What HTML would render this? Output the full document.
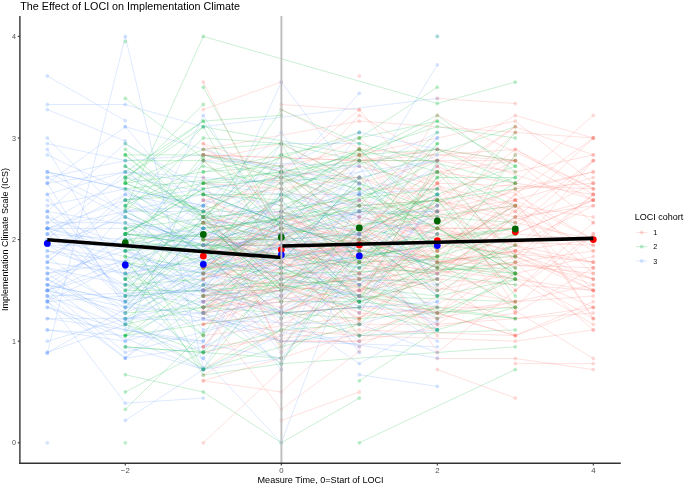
<!DOCTYPE html>
<html><head><meta charset="utf-8"><style>
html,body{margin:0;padding:0;background:#fff;}
svg{display:block;will-change:transform;}
text{font-family:"Liberation Sans",sans-serif;}
.tk{font-size:7.2px;fill:#4D4D4D;}
.tx{font-size:7.8px;fill:#4D4D4D;}
.at{font-size:9px;fill:#000;}
.ti{font-size:10.75px;fill:#000;}
.lt{font-size:7.2px;fill:#000;}
.l1{fill:none;stroke:#F8766D;stroke-opacity:0.21;stroke-width:1.0px;}
.p1{fill:#F8766D;fill-opacity:0.26;}
.l2{fill:none;stroke:#00BA38;stroke-opacity:0.21;stroke-width:1.0px;}
.p2{fill:#00BA38;fill-opacity:0.26;}
.l3{fill:none;stroke:#619CFF;stroke-opacity:0.21;stroke-width:1.0px;}
.p3{fill:#619CFF;fill-opacity:0.26;}
</style></head><body>
<svg width="685" height="484" viewBox="0 0 685 484">
<rect width="685" height="484" fill="#fff"/>
<polyline class="l3" points="47.3,250.9 125.3,273.5 359.3,234.0 437.3,194.4"/>
<polyline class="l2" points="203.3,313.0 281.3,363.8 359.3,239.6 437.3,290.4"/>
<polyline class="l1" points="281.3,228.3 359.3,296.0 437.3,166.2 515.3,200.1 593.3,177.5"/>
<polyline class="l3" points="47.3,194.4 125.3,301.7 203.3,217.0 359.3,262.2"/>
<polyline class="l1" points="203.3,346.8 281.3,250.9 359.3,250.9 437.3,335.6"/>
<polyline class="l2" points="203.3,250.9 281.3,234.0 515.3,205.7"/>
<polyline class="l3" points="47.3,300.6 125.3,403.2 203.3,398.1"/>
<polyline class="l1" points="281.3,420.4 359.3,392.0"/>
<polyline class="l2" points="125.3,279.1 203.3,211.4 281.3,234.0"/>
<polyline class="l3" points="125.3,358.1 203.3,284.8 281.3,318.6 359.3,239.6"/>
<polyline class="l3" points="47.3,296.0 125.3,358.1 281.3,245.2 359.3,267.8"/>
<polyline class="l2" points="125.3,209.1 203.3,36.4 437.3,103.5 515.3,82.1"/>
<polyline class="l2" points="125.3,307.3 203.3,228.3 359.3,211.4 437.3,200.1"/>
<polyline class="l2" points="125.3,335.6 203.3,296.0 281.3,273.5 359.3,284.8 437.3,313.0 515.3,279.1"/>
<polyline class="l2" points="359.3,138.0 437.3,87.2"/>
<polyline class="l3" points="47.3,279.1 125.3,318.6 203.3,301.7 281.3,290.4 359.3,250.9 437.3,329.9"/>
<polyline class="l3" points="47.3,222.7 125.3,177.5 437.3,234.0"/>
<polyline class="l3" points="47.3,171.9 203.3,205.7 281.3,132.4 359.3,239.6 437.3,217.0"/>
<polyline class="l2" points="125.3,154.9 203.3,154.9 281.3,177.5 437.3,126.7 515.3,138.0"/>
<polyline class="l2" points="125.3,324.3 203.3,307.3 281.3,234.0 359.3,335.6 515.3,329.9"/>
<polyline class="l1" points="281.3,104.5 359.3,109.6"/>
<polyline class="l2" points="125.3,245.2 359.3,245.2 437.3,143.6"/>
<polyline class="l1" points="203.3,307.3 359.3,290.4 437.3,324.3 515.3,273.5 593.3,318.6"/>
<polyline class="l2" points="125.3,228.3 203.3,205.7 359.3,245.2 437.3,205.7"/>
<polyline class="l2" points="125.3,279.1 203.3,256.5 281.3,171.9 359.3,262.2 437.3,171.9"/>
<polyline class="l3" points="47.3,273.5 125.3,250.9 203.3,301.7 281.3,363.8 359.3,228.3 437.3,222.7"/>
<polyline class="l1" points="203.3,239.6 281.3,234.0 437.3,205.7 515.3,132.4"/>
<polyline class="l2" points="203.3,250.9 281.3,217.0 359.3,279.1"/>
<polyline class="l3" points="125.3,126.7 203.3,217.0 281.3,211.4"/>
<polyline class="l2" points="125.3,346.8 203.3,352.5 281.3,279.1 437.3,239.6"/>
<polyline class="l2" points="125.3,279.1 203.3,335.6"/>
<polyline class="l2" points="125.3,183.2 203.3,211.4 281.3,171.9 359.3,188.8"/>
<polyline class="l3" points="203.3,358.5 281.3,442.8 359.3,235.5"/>
<polyline class="l1" points="203.3,239.6 281.3,177.5 359.3,205.7 437.3,200.1 515.3,234.0 593.3,200.1"/>
<polyline class="l2" points="125.3,335.6 203.3,160.6 281.3,228.3 359.3,239.6 437.3,200.1 515.3,279.1"/>
<polyline class="l2" points="203.3,154.9 281.3,171.9 359.3,160.6 437.3,194.4 515.3,166.2"/>
<polyline class="l3" points="359.3,374.7 437.3,386.4"/>
<polyline class="l3" points="47.3,234.0 125.3,296.0 203.3,177.5 359.3,284.8 437.3,234.0"/>
<polyline class="l3" points="47.3,250.9 125.3,262.2 281.3,211.4 437.3,132.4"/>
<polyline class="l1" points="203.3,313.0 281.3,284.8 359.3,313.0 437.3,318.6 515.3,301.7"/>
<polyline class="l2" points="125.3,234.0 203.3,188.8 281.3,177.5 437.3,228.3 515.3,132.4"/>
<polyline class="l3" points="47.3,234.0 125.3,239.6 203.3,228.3 281.3,267.8 437.3,245.2"/>
<polyline class="l2" points="125.3,392.0 203.3,351.4"/>
<polyline class="l3" points="47.3,245.2 125.3,217.0 203.3,245.2 281.3,171.9"/>
<polyline class="l3" points="47.3,200.1 125.3,267.8 203.3,262.2 281.3,222.7"/>
<polyline class="l3" points="47.3,211.4 125.3,143.6 281.3,234.0 359.3,267.8 437.3,211.4"/>
<polyline class="l1" points="203.3,296.0 281.3,279.1 359.3,228.3 437.3,352.5 515.3,290.4 593.3,234.0"/>
<polyline class="l2" points="125.3,177.5 203.3,126.7 359.3,154.9 437.3,115.4 515.3,171.9"/>
<polyline class="l1" points="203.3,222.7 359.3,318.6 437.3,228.3 593.3,279.1"/>
<polyline class="l2" points="125.3,262.2 359.3,335.6 437.3,307.3"/>
<polyline class="l3" points="125.3,222.7 203.3,262.2 437.3,284.8"/>
<polyline class="l1" points="203.3,290.4 281.3,262.2 359.3,250.9 437.3,228.3 515.3,228.3"/>
<polyline class="l1" points="359.3,154.9 437.3,183.2 515.3,126.7"/>
<polyline class="l1" points="437.3,369.6 515.3,398.1"/>
<polyline class="l2" points="125.3,296.0 359.3,149.3 437.3,217.0"/>
<polyline class="l1" points="203.3,290.4 281.3,307.3 359.3,245.2 437.3,313.0 515.3,301.7"/>
<polyline class="l1" points="203.3,301.7 359.3,256.5 437.3,279.1 593.3,290.4"/>
<polyline class="l1" points="203.3,154.9 359.3,160.6 515.3,149.3 593.3,188.8"/>
<polyline class="l3" points="47.3,256.5 125.3,313.0 203.3,228.3"/>
<polyline class="l3" points="47.3,301.7 125.3,211.4 203.3,211.4 281.3,211.4 437.3,171.9"/>
<polyline class="l3" points="47.3,290.4 125.3,352.5 359.3,290.4"/>
<polyline class="l3" points="47.3,228.3 281.3,296.0 359.3,245.2"/>
<polyline class="l3" points="47.3,228.3 125.3,290.4 281.3,245.2 359.3,313.0 437.3,194.4"/>
<polyline class="l2" points="125.3,256.5 203.3,375.1 281.3,363.8 515.3,346.8"/>
<polyline class="l2" points="125.3,160.6 203.3,160.6 281.3,177.5 437.3,149.3 515.3,160.6"/>
<polyline class="l2" points="125.3,200.1 203.3,194.4 281.3,200.1 359.3,273.5 437.3,177.5 515.3,177.5"/>
<polyline class="l2" points="125.3,335.6 281.3,222.7 359.3,250.9 515.3,279.1"/>
<polyline class="l1" points="203.3,149.3 281.3,183.2 359.3,154.9 437.3,250.9 593.3,138.0"/>
<polyline class="l1" points="281.3,211.4 359.3,160.6 437.3,160.6 515.3,171.9 593.3,154.9"/>
<polyline class="l1" points="203.3,217.0 281.3,284.8 359.3,234.0 437.3,166.2 515.3,262.2 593.3,194.4"/>
<polyline class="l3" points="47.3,154.9 203.3,228.3 281.3,267.8"/>
<polyline class="l3" points="47.3,149.3 125.3,279.1 203.3,115.4 281.3,239.6 359.3,132.4 437.3,149.3"/>
<polyline class="l1" points="281.3,341.2 359.3,341.2 437.3,296.0 515.3,318.6 593.3,307.3"/>
<polyline class="l3" points="47.3,262.2 125.3,194.4 203.3,256.5 359.3,211.4"/>
<polyline class="l1" points="203.3,222.7 281.3,211.4 359.3,234.0 437.3,205.7 593.3,171.9"/>
<polyline class="l3" points="125.3,250.9 281.3,313.0 437.3,301.7"/>
<polyline class="l2" points="125.3,346.8 281.3,358.1 359.3,296.0 515.3,301.7"/>
<polyline class="l3" points="47.3,211.4 281.3,250.9 359.3,307.3 437.3,194.4"/>
<polyline class="l3" points="47.3,290.4 125.3,234.0 203.3,318.6 437.3,358.1"/>
<polyline class="l1" points="203.3,250.9 359.3,256.5 515.3,188.8 593.3,183.2"/>
<polyline class="l1" points="203.3,273.5 281.3,284.8"/>
<polyline class="l1" points="203.3,267.8 359.3,262.2 437.3,256.5 515.3,200.1 593.3,318.6"/>
<polyline class="l2" points="125.3,234.0 515.3,284.8"/>
<polyline class="l2" points="203.3,183.2 359.3,177.5"/>
<polyline class="l1" points="281.3,171.9 359.3,109.8 437.3,200.1 515.3,217.0 593.3,205.7"/>
<polyline class="l3" points="47.3,284.8 203.3,318.6 281.3,341.2 437.3,346.8"/>
<polyline class="l3" points="47.3,177.5 125.3,160.6 203.3,154.9 359.3,183.2"/>
<polyline class="l2" points="125.3,335.6 281.3,313.0 359.3,307.3 437.3,256.5"/>
<polyline class="l1" points="281.3,284.8 359.3,318.6 437.3,262.2 593.3,267.8"/>
<polyline class="l1" points="203.3,256.5 281.3,313.0 359.3,279.1 437.3,290.4 593.3,256.5"/>
<polyline class="l1" points="203.3,313.0 281.3,239.6 359.3,284.8 437.3,318.6 515.3,205.7 593.3,318.6"/>
<polyline class="l2" points="125.3,183.2 203.3,149.3 281.3,143.6 359.3,160.6 437.3,160.6"/>
<polyline class="l3" points="47.3,262.2 125.3,200.1 359.3,166.2 437.3,290.4"/>
<polyline class="l1" points="203.3,273.5 281.3,228.3 359.3,200.1 437.3,267.8 515.3,194.4 593.3,239.6"/>
<polyline class="l2" points="125.3,273.5 203.3,307.3 281.3,256.5"/>
<polyline class="l2" points="125.3,149.3 203.3,217.0 281.3,183.2 359.3,262.2 437.3,200.1 515.3,296.0"/>
<polyline class="l2" points="125.3,409.3 203.3,333.1"/>
<polyline class="l2" points="125.3,188.8 203.3,239.6 281.3,239.6 359.3,245.2 515.3,228.3"/>
<polyline class="l2" points="125.3,284.8 203.3,279.1 437.3,160.6"/>
<polyline class="l1" points="203.3,149.3 359.3,121.1 515.3,132.4 593.3,138.0"/>
<polyline class="l3" points="125.3,245.2 203.3,329.9 281.3,307.3 359.3,256.5 437.3,205.7"/>
<polyline class="l1" points="203.3,194.4 281.3,245.2 359.3,273.5 437.3,211.4 515.3,245.2 593.3,205.7"/>
<polyline class="l3" points="47.3,222.7 125.3,222.7 203.3,234.0 359.3,234.0"/>
<polyline class="l3" points="47.3,341.2 125.3,318.6 359.3,324.3 437.3,352.5"/>
<polyline class="l2" points="125.3,222.7 203.3,296.0 515.3,262.2"/>
<polyline class="l1" points="203.3,279.1 281.3,256.5 359.3,262.2 515.3,279.1 593.3,290.4"/>
<polyline class="l1" points="203.3,324.3 281.3,313.0 359.3,307.3 437.3,313.0 515.3,335.6 593.3,301.7"/>
<polyline class="l3" points="47.3,301.7 125.3,262.2 203.3,290.4"/>
<polyline class="l1" points="203.3,245.2 281.3,200.1 359.3,115.4 437.3,160.6 515.3,115.4 593.3,138.0"/>
<polyline class="l3" points="125.3,296.0 203.3,301.7 281.3,256.5 437.3,166.2"/>
<polyline class="l3" points="281.3,178.6 359.3,93.3"/>
<polyline class="l2" points="125.3,234.0 281.3,239.6 359.3,296.0 515.3,234.0"/>
<polyline class="l3" points="125.3,205.7 203.3,290.4 281.3,194.4 359.3,194.4"/>
<polyline class="l1" points="203.3,335.6 437.3,307.3 515.3,307.3"/>
<polyline class="l1" points="203.3,234.0 281.3,171.9 359.3,177.5 437.3,200.1 515.3,222.7 593.3,239.6"/>
<polyline class="l1" points="203.3,109.6 281.3,82.1"/>
<polyline class="l3" points="47.3,183.2 125.3,307.3 203.3,313.0 281.3,301.7"/>
<polyline class="l2" points="203.3,250.9 281.3,222.7"/>
<polyline class="l3" points="47.3,234.0 125.3,194.4 203.3,211.4 281.3,296.0 359.3,194.4 437.3,188.8"/>
<polyline class="l1" points="281.3,245.2 359.3,239.6 437.3,211.4 593.3,171.9"/>
<polyline class="l3" points="125.3,166.2 203.3,262.2 281.3,352.5 359.3,200.1"/>
<polyline class="l3" points="47.3,352.5 281.3,222.7 437.3,324.3"/>
<polyline class="l1" points="203.3,284.8 359.3,290.4 515.3,250.9 593.3,290.4"/>
<polyline class="l2" points="125.3,239.6 203.3,250.9 281.3,239.6 359.3,211.4 515.3,222.7"/>
<polyline class="l2" points="125.3,296.0 203.3,290.4 281.3,256.5 359.3,239.6 437.3,267.8 515.3,154.9"/>
<polyline class="l1" points="437.3,358.5 515.3,358.5 593.3,369.6"/>
<polyline class="l3" points="47.3,217.0 125.3,245.2 203.3,234.0"/>
<polyline class="l3" points="47.3,329.9 125.3,341.2 281.3,296.0 359.3,234.0 437.3,296.0"/>
<polyline class="l3" points="47.3,171.9 203.3,250.9 281.3,234.0 359.3,217.0 437.3,138.0"/>
<polyline class="l1" points="281.3,211.4 359.3,256.5"/>
<polyline class="l3" points="47.3,183.2 125.3,126.7 359.3,194.4 437.3,154.9"/>
<polyline class="l1" points="203.3,222.7 281.3,245.2 359.3,222.7 437.3,284.8 515.3,200.1"/>
<polyline class="l2" points="125.3,318.6 203.3,267.8 281.3,273.5 515.3,228.3"/>
<polyline class="l3" points="47.3,256.5 125.3,211.4 203.3,205.7"/>
<polyline class="l1" points="203.3,250.9 359.3,245.2 437.3,171.9 515.3,183.2 593.3,115.4"/>
<polyline class="l1" points="203.3,301.7 281.3,341.2 359.3,341.2 515.3,313.0 593.3,267.8"/>
<polyline class="l2" points="125.3,262.2 203.3,335.6 281.3,211.4 437.3,267.8 515.3,273.5"/>
<polyline class="l1" points="203.3,307.3 281.3,284.8 359.3,346.8 515.3,262.2 593.3,329.9"/>
<polyline class="l1" points="203.3,290.4 437.3,222.7 515.3,267.8"/>
<polyline class="l3" points="47.3,262.2 125.3,273.5 281.3,279.1 359.3,296.0"/>
<polyline class="l1" points="203.3,234.0 281.3,256.5 359.3,245.2"/>
<polyline class="l2" points="125.3,205.7 203.3,228.3 437.3,200.1 515.3,188.8"/>
<polyline class="l3" points="203.3,313.0 281.3,267.8"/>
<polyline class="l3" points="125.3,273.5 203.3,256.5 359.3,250.9"/>
<polyline class="l2" points="203.3,284.8 437.3,279.1"/>
<polyline class="l1" points="203.3,296.0 359.3,239.6 437.3,183.2 515.3,250.9 593.3,160.6"/>
<polyline class="l1" points="281.3,313.0 437.3,239.6 515.3,256.5 593.3,284.8"/>
<polyline class="l3" points="47.3,205.7 125.3,188.8 203.3,273.5 281.3,171.9 359.3,211.4 437.3,138.0"/>
<polyline class="l1" points="203.3,256.5 281.3,296.0 359.3,273.5 437.3,200.1 515.3,183.2 593.3,194.4"/>
<polyline class="l1" points="203.3,307.3 281.3,301.7 359.3,234.0 437.3,267.8 593.3,200.1"/>
<polyline class="l1" points="203.3,267.8 281.3,222.7 359.3,239.6 437.3,273.5 515.3,217.0 593.3,245.2"/>
<polyline class="l3" points="47.3,104.5 125.3,104.5 203.3,126.8 437.3,98.4"/>
<polyline class="l2" points="203.3,171.9 281.3,166.2 359.3,205.7 437.3,132.4"/>
<polyline class="l3" points="47.3,183.2 125.3,171.9 281.3,194.4 359.3,205.7"/>
<polyline class="l1" points="203.3,267.8 359.3,228.3 437.3,262.2 593.3,239.6"/>
<polyline class="l2" points="125.3,324.3 203.3,352.5 281.3,329.9 359.3,324.3 437.3,262.2 515.3,307.3"/>
<polyline class="l2" points="125.3,177.5 203.3,121.1 281.3,115.4"/>
<polyline class="l1" points="203.3,324.3 281.3,284.8 359.3,279.1 437.3,250.9 515.3,273.5 593.3,307.3"/>
<polyline class="l1" points="203.3,442.8 281.3,369.6"/>
<polyline class="l1" points="203.3,346.8 359.3,329.9 515.3,335.6"/>
<polyline class="l3" points="47.3,353.4 125.3,36.4 203.3,367.6"/>
<polyline class="l2" points="125.3,250.9 203.3,245.2 281.3,346.8 359.3,262.2 515.3,256.5"/>
<polyline class="l1" points="203.3,296.0 281.3,335.6 359.3,217.0 437.3,234.0 515.3,250.9"/>
<polyline class="l1" points="203.3,273.5 359.3,279.1 437.3,245.2 593.3,262.2"/>
<polyline class="l3" points="47.3,290.4 125.3,267.8 203.3,307.3 281.3,262.2 359.3,301.7"/>
<polyline class="l2" points="125.3,250.9 203.3,154.9 281.3,166.2"/>
<polyline class="l2" points="125.3,98.4 203.3,158.3"/>
<polyline class="l2" points="203.3,194.4 281.3,222.7 437.3,171.9 515.3,205.7"/>
<polyline class="l1" points="203.3,250.9 281.3,324.3 359.3,290.4 437.3,279.1 515.3,222.7 593.3,183.2"/>
<polyline class="l3" points="47.3,138.0 125.3,217.0 203.3,250.9 281.3,143.6 359.3,143.6"/>
<polyline class="l3" points="47.3,228.3 125.3,200.1 203.3,228.3"/>
<polyline class="l2" points="125.3,200.1 203.3,183.2 281.3,205.7 515.3,126.7"/>
<polyline class="l3" points="47.3,279.1 125.3,245.2 203.3,290.4 281.3,262.2 359.3,177.5"/>
<polyline class="l2" points="125.3,245.2 281.3,200.1 359.3,149.3 437.3,222.7"/>
<polyline class="l1" points="203.3,245.2 281.3,279.1 359.3,262.2 437.3,290.4 515.3,256.5 593.3,290.4"/>
<polyline class="l1" points="203.3,369.4 281.3,318.6 359.3,301.7 437.3,279.1 515.3,335.6"/>
<polyline class="l3" points="47.3,329.9 203.3,341.2 281.3,234.0 359.3,324.3 437.3,301.7"/>
<polyline class="l3" points="47.3,296.0 203.3,290.4 281.3,188.8 359.3,217.0"/>
<polyline class="l3" points="203.3,290.4 281.3,313.0"/>
<polyline class="l2" points="359.3,442.8 515.3,369.6"/>
<polyline class="l1" points="203.3,217.0 281.3,234.0 359.3,194.4 437.3,262.2 515.3,256.5 593.3,194.4"/>
<polyline class="l2" points="125.3,166.2 203.3,217.0 281.3,154.9 359.3,138.0 437.3,121.1 515.3,166.2"/>
<polyline class="l3" points="47.3,211.4 125.3,296.0 281.3,245.2 359.3,284.8"/>
<polyline class="l3" points="47.3,301.7 125.3,358.1 203.3,346.8 359.3,273.5 437.3,307.3"/>
<polyline class="l2" points="125.3,183.2 203.3,171.9 281.3,154.9 437.3,211.4"/>
<polyline class="l2" points="125.3,143.6 203.3,194.4 281.3,194.4 359.3,234.0 437.3,194.4"/>
<polyline class="l2" points="125.3,211.4 203.3,138.0 281.3,143.6 437.3,222.7"/>
<polyline class="l3" points="47.3,177.5 125.3,217.0 203.3,245.2 281.3,245.2 359.3,296.0"/>
<polyline class="l1" points="203.3,82.1 281.3,239.6"/>
<polyline class="l3" points="281.3,310.7 359.3,363.6 437.3,320.9"/>
<polyline class="l3" points="359.3,192.9 437.3,64.8"/>
<polyline class="l1" points="281.3,256.5 359.3,335.6 437.3,245.2 515.3,205.7 593.3,250.9"/>
<polyline class="l1" points="203.3,160.6 281.3,143.6 359.3,183.2 437.3,160.6 515.3,160.6"/>
<polyline class="l1" points="203.3,239.6 359.3,250.9 437.3,183.2 593.3,188.8"/>
<polyline class="l1" points="203.3,200.1 281.3,228.3 359.3,154.9 437.3,222.7 515.3,200.1"/>
<polyline class="l1" points="203.3,211.4 359.3,138.0 437.3,211.4 515.3,149.3 593.3,194.4"/>
<polyline class="l1" points="203.3,290.4 281.3,239.6 359.3,205.7 437.3,239.6 593.3,200.1"/>
<polyline class="l3" points="47.3,217.0 125.3,279.1"/>
<polyline class="l1" points="203.3,279.1 281.3,211.4 359.3,262.2 437.3,211.4 515.3,200.1 593.3,239.6"/>
<polyline class="l1" points="203.3,296.0 281.3,313.0 359.3,284.8 437.3,228.3 515.3,188.8 593.3,267.8"/>
<polyline class="l3" points="47.3,228.3 125.3,301.7 203.3,284.8 281.3,211.4 359.3,234.0 437.3,267.8"/>
<polyline class="l3" points="47.3,228.3 125.3,228.3 203.3,250.9 281.3,200.1"/>
<polyline class="l1" points="203.3,380.7 281.3,358.1 437.3,307.3"/>
<polyline class="l2" points="125.3,211.4 203.3,250.9 281.3,284.8 359.3,228.3 437.3,318.6 515.3,273.5"/>
<polyline class="l2" points="359.3,380.8 437.3,330.0"/>
<polyline class="l1" points="437.3,98.4 515.3,103.5"/>
<polyline class="l1" points="203.3,239.6 359.3,273.5 515.3,301.7 593.3,296.0"/>
<polyline class="l1" points="203.3,324.3 281.3,296.0 359.3,324.3 437.3,324.3 593.3,313.0"/>
<polyline class="l1" points="203.3,296.0 281.3,290.4 359.3,239.6 515.3,279.1 593.3,324.3"/>
<polyline class="l2" points="203.3,307.3 437.3,256.5"/>
<polyline class="l1" points="203.3,200.1 281.3,346.8 359.3,250.9 437.3,250.9 515.3,154.9"/>
<polyline class="l2" points="125.3,313.0 203.3,239.6 281.3,318.6 359.3,256.5 437.3,228.3 515.3,267.8"/>
<polyline class="l3" points="47.3,267.8 125.3,284.8 203.3,296.0 281.3,194.4 437.3,239.6"/>
<polyline class="l1" points="281.3,307.3 359.3,267.8 437.3,273.5 593.3,250.9"/>
<polyline class="l3" points="203.3,252.8 281.3,82.1 359.3,184.7"/>
<polyline class="l2" points="125.3,154.9 203.3,217.0 281.3,143.6 359.3,267.8 437.3,177.5"/>
<polyline class="l1" points="203.3,267.8 281.3,217.0 437.3,262.2 515.3,250.9 593.3,262.2"/>
<polyline class="l2" points="125.3,239.6 203.3,234.0 359.3,194.4 437.3,284.8 515.3,245.2"/>
<polyline class="l2" points="203.3,183.2 281.3,171.9 359.3,228.3 515.3,177.5"/>
<polyline class="l2" points="125.3,374.7 203.3,392.0 281.3,442.8 359.3,398.1"/>
<polyline class="l1" points="203.3,239.6 281.3,239.6 359.3,228.3 515.3,228.3 593.3,160.6"/>
<polyline class="l1" points="203.3,352.5 359.3,318.6 437.3,267.8 515.3,301.7 593.3,284.8"/>
<polyline class="l2" points="125.3,177.5 203.3,211.4 281.3,250.9 359.3,183.2 437.3,250.9 515.3,205.7"/>
<polyline class="l1" points="203.3,183.2 281.3,188.8 359.3,177.5 437.3,211.4"/>
<polyline class="l2" points="125.3,273.5 203.3,369.4 281.3,267.8 437.3,245.2"/>
<polyline class="l3" points="47.3,279.1 125.3,324.3 203.3,273.5 281.3,256.5 359.3,183.2"/>
<polyline class="l2" points="125.3,284.8 203.3,313.0 281.3,279.1 437.3,296.0 515.3,279.1"/>
<polyline class="l3" points="47.3,318.6 203.3,341.2"/>
<polyline class="l2" points="125.3,205.7 203.3,166.2 281.3,188.8 359.3,279.1 515.3,234.0"/>
<polyline class="l2" points="125.3,250.9 281.3,217.0 359.3,301.7"/>
<polyline class="l1" points="203.3,154.9 359.3,160.6 437.3,149.3 515.3,160.6"/>
<polyline class="l3" points="47.3,318.6 125.3,318.6 203.3,313.0 281.3,341.2 359.3,335.6 437.3,329.9"/>
<polyline class="l2" points="203.3,194.4 359.3,250.9 515.3,228.3"/>
<polyline class="l3" points="47.3,245.2 125.3,284.8 203.3,245.2 281.3,217.0 359.3,200.1 437.3,296.0"/>
<polyline class="l2" points="125.3,290.4 203.3,290.4 281.3,284.8 515.3,318.6"/>
<polyline class="l2" points="203.3,267.8 281.3,154.9 437.3,228.3 515.3,183.2"/>
<polyline class="l3" points="47.3,296.0 203.3,358.1 281.3,284.8 359.3,245.2"/>
<polyline class="l1" points="203.3,318.6 281.3,177.5 359.3,239.6 437.3,149.3 593.3,200.1"/>
<polyline class="l1" points="203.3,375.1 281.3,329.9 359.3,335.6 515.3,341.2 593.3,329.9"/>
<polyline class="l2" points="125.3,171.9 203.3,121.1 281.3,228.3 359.3,205.7 437.3,262.2 515.3,273.5"/>
<polyline class="l1" points="203.3,267.8 281.3,222.7 359.3,149.3 437.3,250.9 515.3,205.7 593.3,217.0"/>
<polyline class="l2" points="203.3,87.2 281.3,229.4"/>
<polyline class="l1" points="203.3,267.8 281.3,262.2 359.3,290.4 437.3,239.6 593.3,245.2"/>
<polyline class="l3" points="47.3,171.9 203.3,205.7 281.3,166.2 359.3,132.4"/>
<polyline class="l2" points="125.3,256.5 203.3,267.8 281.3,256.5 359.3,250.9"/>
<polyline class="l1" points="203.3,290.4 281.3,290.4 359.3,211.4 593.3,262.2"/>
<polyline class="l3" points="47.3,284.8 125.3,234.0 203.3,239.6 359.3,211.4 437.3,211.4"/>
<polyline class="l2" points="203.3,273.5 281.3,194.4 437.3,121.1"/>
<polyline class="l3" points="47.3,109.6 125.3,141.0"/>
<polyline class="l3" points="47.3,290.4 203.3,228.3"/>
<polyline class="l3" points="125.3,346.8 203.3,369.4 281.3,228.3 359.3,228.3 437.3,273.5"/>
<polyline class="l1" points="203.3,217.0 281.3,234.0 359.3,166.2 515.3,205.7"/>
<polyline class="l1" points="515.3,363.6 593.3,363.6"/>
<polyline class="l3" points="47.3,290.4 125.3,307.3 203.3,273.5 359.3,245.2"/>
<polyline class="l1" points="203.3,200.1 281.3,188.8 359.3,217.0 437.3,171.9 515.3,160.6"/>
<polyline class="l1" points="203.3,380.8 281.3,392.0 359.3,320.9"/>
<polyline class="l3" points="47.3,307.3 203.3,369.4 281.3,358.1"/>
<polyline class="l3" points="47.3,301.7 203.3,290.4 437.3,313.0"/>
<polyline class="l1" points="515.3,310.7 593.3,358.5"/>
<polyline class="l2" points="125.3,250.9 203.3,222.7 281.3,239.6 359.3,234.0 437.3,296.0 515.3,234.0"/>
<polyline class="l3" points="47.3,290.4 125.3,313.0 359.3,211.4 437.3,279.1"/>
<polyline class="l2" points="359.3,250.9 437.3,256.5"/>
<polyline class="l2" points="125.3,239.6 203.3,262.2 281.3,228.3 359.3,301.7 437.3,279.1"/>
<polyline class="l3" points="47.3,284.8 125.3,301.7 203.3,352.5 281.3,217.0 359.3,301.7 437.3,222.7"/>
<polyline class="l2" points="125.3,228.3 437.3,188.8"/>
<polyline class="l3" points="125.3,320.9 203.3,280.2 281.3,369.6"/>
<polyline class="l2" points="125.3,313.0 203.3,307.3 359.3,318.6 515.3,307.3"/>
<polyline class="l1" points="203.3,301.7 281.3,290.4 359.3,284.8 515.3,245.2 593.3,279.1"/>
<polyline class="l3" points="125.3,239.6 203.3,160.6 359.3,166.2"/>
<polyline class="l1" points="203.3,222.7 437.3,273.5 515.3,217.0 593.3,160.6"/>
<polyline class="l1" points="281.3,109.6 359.3,148.2"/>
<polyline class="l3" points="47.3,239.6 203.3,273.5"/>
<polyline class="l2" points="125.3,200.1 281.3,301.7 359.3,301.7 515.3,245.2"/>
<polyline class="l2" points="203.3,256.5 281.3,194.4 359.3,228.3 515.3,256.5"/>
<polyline class="l1" points="203.3,177.5 281.3,352.5 437.3,245.2 515.3,211.4 593.3,290.4"/>
<polyline class="l1" points="203.3,154.9 281.3,166.2 359.3,149.3 515.3,160.6 593.3,222.7"/>
<polyline class="l1" points="281.3,205.7 359.3,290.4 437.3,234.0 515.3,234.0 593.3,239.6"/>
<polyline class="l3" points="47.3,194.4 125.3,171.9 203.3,222.7 281.3,222.7 359.3,177.5 437.3,160.6"/>
<polyline class="l2" points="125.3,166.2 281.3,262.2 359.3,177.5 437.3,250.9"/>
<polyline class="l1" points="203.3,307.3 281.3,273.5 359.3,313.0 437.3,211.4 515.3,290.4 593.3,222.7"/>
<polyline class="l2" points="125.3,234.0 203.3,183.2 359.3,132.4"/>
<polyline class="l2" points="281.3,211.4 359.3,160.6 437.3,256.5 515.3,217.0"/>
<polyline class="l2" points="125.3,267.8 203.3,222.7 281.3,290.4"/>
<polyline class="l2" points="203.3,262.2 281.3,273.5 515.3,267.8"/>
<polyline class="l1" points="203.3,160.6 281.3,222.7 359.3,188.8 437.3,188.8 515.3,211.4 593.3,138.0"/>
<polyline class="l2" points="125.3,205.7 203.3,126.7 281.3,267.8 359.3,301.7 437.3,160.6 515.3,228.3"/>
<polyline class="l2" points="281.3,267.8 437.3,188.8"/>
<polyline class="l2" points="281.3,183.2 359.3,149.3 437.3,171.9 515.3,256.5"/>
<polyline class="l1" points="203.3,245.2 281.3,273.5 359.3,200.1 437.3,217.0 515.3,205.7 593.3,273.5"/>
<polyline class="l3" points="47.3,228.3 203.3,194.4 359.3,250.9 437.3,262.2"/>
<polyline class="l2" points="125.3,262.2 203.3,273.5 281.3,217.0 359.3,205.7 437.3,200.1"/>
<polyline class="l3" points="47.3,273.5 125.3,262.2 281.3,324.3 359.3,346.8"/>
<polyline class="l2" points="125.3,234.0 203.3,188.8"/>
<polyline class="l2" points="125.3,234.0 203.3,245.2 359.3,188.8 437.3,228.3 515.3,273.5"/>
<polyline class="l1" points="203.3,267.8 281.3,228.3 359.3,245.2"/>
<polyline class="l2" points="125.3,188.8 281.3,171.9 359.3,154.9 437.3,149.3 515.3,183.2"/>
<polyline class="l3" points="47.3,239.6 125.3,171.9 281.3,183.2 437.3,160.6"/>
<polyline class="l1" points="203.3,346.8 281.3,262.2 437.3,313.0 515.3,335.6 593.3,307.3"/>
<polyline class="l1" points="359.3,296.0 437.3,183.2 515.3,307.3 593.3,234.0"/>
<polyline class="l3" points="47.3,284.8 125.3,341.2 203.3,284.8 281.3,239.6 359.3,352.5"/>
<polyline class="l2" points="125.3,217.0 203.3,267.8 437.3,329.9"/>
<polyline class="l3" points="47.3,307.3 125.3,329.9 281.3,358.1 359.3,262.2 437.3,329.9"/>
<polyline class="l3" points="47.3,143.6 125.3,160.6 281.3,279.1 359.3,160.6"/>
<polyline class="l2" points="125.3,290.4 203.3,222.7 281.3,290.4 359.3,228.3 437.3,194.4 515.3,273.5"/>
<polyline class="l2" points="125.3,301.7 203.3,217.0 281.3,284.8 359.3,301.7 515.3,318.6"/>
<polyline class="l2" points="203.3,239.6 359.3,296.0 437.3,234.0"/>
<polyline class="l3" points="47.3,352.5 125.3,324.3 203.3,369.4 281.3,335.6 359.3,279.1 437.3,318.6"/>
<polyline class="l1" points="203.3,245.2 281.3,245.2 359.3,154.9 515.3,121.1 593.3,183.2"/>
<polyline class="l3" points="47.3,273.5 125.3,324.3 203.3,256.5 359.3,296.0 437.3,341.2"/>
<polyline class="l1" points="203.3,310.7 281.3,409.3 359.3,351.4"/>
<polyline class="l3" points="47.3,228.3 125.3,245.2 203.3,256.5 281.3,228.3"/>
<polyline class="l1" points="203.3,250.9 281.3,262.2 359.3,234.0 515.3,160.6 593.3,200.1"/>
<polyline class="l1" points="203.3,143.6 281.3,171.9 359.3,228.3 515.3,126.7 593.3,154.9"/>
<polyline class="l3" points="125.3,301.7 203.3,256.5 281.3,313.0 359.3,307.3"/>
<polyline class="l2" points="203.3,245.2 359.3,267.8 437.3,228.3 515.3,273.5"/>
<polyline class="l3" points="47.3,267.8 125.3,307.3 203.3,228.3 281.3,200.1 359.3,284.8 437.3,205.7"/>
<polyline class="l1" points="203.3,239.6 359.3,256.5 437.3,256.5 593.3,273.5"/>
<polyline class="l2" points="125.3,228.3 203.3,369.4 359.3,324.3"/>
<polyline class="l3" points="125.3,420.4 203.3,369.6"/>
<polyline class="l2" points="125.3,318.6 203.3,369.4 281.3,329.9 359.3,296.0 437.3,329.9 515.3,307.3"/>
<polyline class="l2" points="125.3,183.2 203.3,217.0 281.3,301.7 437.3,143.6"/>
<polyline class="l3" points="47.3,76.0 125.3,120.7"/>
<polyline class="l1" points="203.3,313.0 281.3,301.7 359.3,296.0 437.3,313.0 515.3,262.2 593.3,279.1"/>
<polyline class="l1" points="203.3,279.1 437.3,222.7 515.3,313.0"/>
<polyline class="l2" points="125.3,180.7 203.3,104.5"/>
<polyline class="l3" points="47.3,245.2 125.3,262.2 203.3,200.1 281.3,217.0 437.3,211.4"/>
<polyline class="l1" points="203.3,143.6 281.3,217.0 359.3,245.2 437.3,115.4 593.3,188.8"/>
<polyline class="l3" points="125.3,284.8 203.3,205.7 281.3,284.8 359.3,341.2"/>
<polyline class="l2" points="125.3,154.9 203.3,222.7 281.3,109.8 359.3,143.6 515.3,183.2"/>
<polyline class="l3" points="47.3,245.2 203.3,245.2 281.3,239.6 359.3,234.0"/>
<circle class="p1" cx="593.3" cy="262.2" r="1.9"/>
<circle class="p2" cx="125.3" cy="177.5" r="1.9"/>
<circle class="p2" cx="515.3" cy="234.0" r="1.9"/>
<circle class="p2" cx="281.3" cy="284.8" r="1.9"/>
<circle class="p3" cx="203.3" cy="205.7" r="1.9"/>
<circle class="p1" cx="437.3" cy="200.1" r="1.9"/>
<circle class="p1" cx="515.3" cy="301.7" r="1.9"/>
<circle class="p1" cx="515.3" cy="301.7" r="1.9"/>
<circle class="p1" cx="515.3" cy="200.1" r="1.9"/>
<circle class="p1" cx="515.3" cy="290.4" r="1.9"/>
<circle class="p2" cx="359.3" cy="183.2" r="1.9"/>
<circle class="p1" cx="593.3" cy="194.4" r="1.9"/>
<circle class="p1" cx="515.3" cy="160.6" r="1.9"/>
<circle class="p3" cx="125.3" cy="420.4" r="1.9"/>
<circle class="p1" cx="359.3" cy="149.3" r="1.9"/>
<circle class="p3" cx="125.3" cy="234.0" r="1.9"/>
<circle class="p1" cx="281.3" cy="211.4" r="1.9"/>
<circle class="p3" cx="125.3" cy="341.2" r="1.9"/>
<circle class="p3" cx="125.3" cy="358.1" r="1.9"/>
<circle class="p3" cx="437.3" cy="166.2" r="1.9"/>
<circle class="p2" cx="203.3" cy="36.4" r="1.9"/>
<circle class="p1" cx="593.3" cy="160.6" r="1.9"/>
<circle class="p3" cx="125.3" cy="239.6" r="1.9"/>
<circle class="p3" cx="125.3" cy="301.7" r="1.9"/>
<circle class="p1" cx="593.3" cy="245.2" r="1.9"/>
<circle class="p3" cx="281.3" cy="222.7" r="1.9"/>
<circle class="p1" cx="359.3" cy="239.6" r="1.9"/>
<circle class="p1" cx="359.3" cy="256.5" r="1.9"/>
<circle class="p3" cx="437.3" cy="171.9" r="1.9"/>
<circle class="p1" cx="437.3" cy="211.4" r="1.9"/>
<circle class="p2" cx="515.3" cy="234.0" r="1.9"/>
<circle class="p3" cx="203.3" cy="239.6" r="1.9"/>
<circle class="p2" cx="125.3" cy="273.5" r="1.9"/>
<circle class="p1" cx="359.3" cy="290.4" r="1.9"/>
<circle class="p3" cx="203.3" cy="301.7" r="1.9"/>
<circle class="p3" cx="125.3" cy="245.2" r="1.9"/>
<circle class="p2" cx="203.3" cy="154.9" r="1.9"/>
<circle class="p1" cx="437.3" cy="234.0" r="1.9"/>
<circle class="p2" cx="359.3" cy="194.4" r="1.9"/>
<circle class="p3" cx="359.3" cy="307.3" r="1.9"/>
<circle class="p1" cx="359.3" cy="228.3" r="1.9"/>
<circle class="p1" cx="359.3" cy="290.4" r="1.9"/>
<circle class="p3" cx="281.3" cy="262.2" r="1.9"/>
<circle class="p3" cx="47.3" cy="290.4" r="1.9"/>
<circle class="p1" cx="203.3" cy="109.6" r="1.9"/>
<circle class="p1" cx="203.3" cy="239.6" r="1.9"/>
<circle class="p1" cx="281.3" cy="273.5" r="1.9"/>
<circle class="p3" cx="359.3" cy="166.2" r="1.9"/>
<circle class="p2" cx="203.3" cy="245.2" r="1.9"/>
<circle class="p3" cx="359.3" cy="217.0" r="1.9"/>
<circle class="p2" cx="281.3" cy="154.9" r="1.9"/>
<circle class="p1" cx="281.3" cy="284.8" r="1.9"/>
<circle class="p2" cx="437.3" cy="143.6" r="1.9"/>
<circle class="p2" cx="203.3" cy="160.6" r="1.9"/>
<circle class="p1" cx="281.3" cy="313.0" r="1.9"/>
<circle class="p2" cx="515.3" cy="205.7" r="1.9"/>
<circle class="p1" cx="203.3" cy="301.7" r="1.9"/>
<circle class="p2" cx="203.3" cy="290.4" r="1.9"/>
<circle class="p3" cx="437.3" cy="138.0" r="1.9"/>
<circle class="p2" cx="281.3" cy="273.5" r="1.9"/>
<circle class="p3" cx="203.3" cy="245.2" r="1.9"/>
<circle class="p2" cx="359.3" cy="279.1" r="1.9"/>
<circle class="p1" cx="281.3" cy="211.4" r="1.9"/>
<circle class="p1" cx="281.3" cy="290.4" r="1.9"/>
<circle class="p2" cx="203.3" cy="205.7" r="1.9"/>
<circle class="p3" cx="203.3" cy="228.3" r="1.9"/>
<circle class="p1" cx="437.3" cy="267.8" r="1.9"/>
<circle class="p2" cx="125.3" cy="409.3" r="1.9"/>
<circle class="p2" cx="281.3" cy="256.5" r="1.9"/>
<circle class="p2" cx="125.3" cy="262.2" r="1.9"/>
<circle class="p2" cx="125.3" cy="183.2" r="1.9"/>
<circle class="p3" cx="359.3" cy="250.9" r="1.9"/>
<circle class="p1" cx="359.3" cy="320.9" r="1.9"/>
<circle class="p3" cx="203.3" cy="290.4" r="1.9"/>
<circle class="p1" cx="203.3" cy="313.0" r="1.9"/>
<circle class="p1" cx="281.3" cy="82.1" r="1.9"/>
<circle class="p3" cx="47.3" cy="307.3" r="1.9"/>
<circle class="p1" cx="281.3" cy="171.9" r="1.9"/>
<circle class="p3" cx="359.3" cy="200.1" r="1.9"/>
<circle class="p1" cx="437.3" cy="171.9" r="1.9"/>
<circle class="p1" cx="437.3" cy="239.6" r="1.9"/>
<circle class="p3" cx="359.3" cy="267.8" r="1.9"/>
<circle class="p1" cx="281.3" cy="284.8" r="1.9"/>
<circle class="p1" cx="359.3" cy="250.9" r="1.9"/>
<circle class="p1" cx="203.3" cy="301.7" r="1.9"/>
<circle class="p2" cx="359.3" cy="296.0" r="1.9"/>
<circle class="p3" cx="281.3" cy="194.4" r="1.9"/>
<circle class="p2" cx="359.3" cy="267.8" r="1.9"/>
<circle class="p1" cx="281.3" cy="290.4" r="1.9"/>
<circle class="p2" cx="515.3" cy="279.1" r="1.9"/>
<circle class="p3" cx="47.3" cy="205.7" r="1.9"/>
<circle class="p1" cx="515.3" cy="262.2" r="1.9"/>
<circle class="p1" cx="281.3" cy="188.8" r="1.9"/>
<circle class="p3" cx="47.3" cy="301.7" r="1.9"/>
<circle class="p3" cx="125.3" cy="171.9" r="1.9"/>
<circle class="p3" cx="281.3" cy="284.8" r="1.9"/>
<circle class="p3" cx="281.3" cy="211.4" r="1.9"/>
<circle class="p3" cx="359.3" cy="374.7" r="1.9"/>
<circle class="p3" cx="359.3" cy="301.7" r="1.9"/>
<circle class="p2" cx="437.3" cy="329.9" r="1.9"/>
<circle class="p1" cx="593.3" cy="250.9" r="1.9"/>
<circle class="p1" cx="515.3" cy="149.3" r="1.9"/>
<circle class="p2" cx="515.3" cy="267.8" r="1.9"/>
<circle class="p3" cx="437.3" cy="262.2" r="1.9"/>
<circle class="p3" cx="437.3" cy="98.4" r="1.9"/>
<circle class="p1" cx="515.3" cy="398.1" r="1.9"/>
<circle class="p2" cx="281.3" cy="171.9" r="1.9"/>
<circle class="p1" cx="593.3" cy="222.7" r="1.9"/>
<circle class="p1" cx="437.3" cy="279.1" r="1.9"/>
<circle class="p2" cx="203.3" cy="234.0" r="1.9"/>
<circle class="p2" cx="515.3" cy="222.7" r="1.9"/>
<circle class="p1" cx="281.3" cy="234.0" r="1.9"/>
<circle class="p1" cx="281.3" cy="301.7" r="1.9"/>
<circle class="p3" cx="437.3" cy="301.7" r="1.9"/>
<circle class="p1" cx="203.3" cy="250.9" r="1.9"/>
<circle class="p2" cx="281.3" cy="109.8" r="1.9"/>
<circle class="p1" cx="203.3" cy="273.5" r="1.9"/>
<circle class="p2" cx="437.3" cy="126.7" r="1.9"/>
<circle class="p1" cx="437.3" cy="324.3" r="1.9"/>
<circle class="p1" cx="359.3" cy="335.6" r="1.9"/>
<circle class="p3" cx="437.3" cy="194.4" r="1.9"/>
<circle class="p2" cx="125.3" cy="200.1" r="1.9"/>
<circle class="p3" cx="203.3" cy="284.8" r="1.9"/>
<circle class="p1" cx="359.3" cy="284.8" r="1.9"/>
<circle class="p2" cx="437.3" cy="188.8" r="1.9"/>
<circle class="p1" cx="515.3" cy="358.5" r="1.9"/>
<circle class="p2" cx="125.3" cy="228.3" r="1.9"/>
<circle class="p2" cx="281.3" cy="205.7" r="1.9"/>
<circle class="p2" cx="125.3" cy="200.1" r="1.9"/>
<circle class="p3" cx="203.3" cy="369.4" r="1.9"/>
<circle class="p2" cx="281.3" cy="166.2" r="1.9"/>
<circle class="p1" cx="437.3" cy="358.5" r="1.9"/>
<circle class="p2" cx="203.3" cy="171.9" r="1.9"/>
<circle class="p1" cx="281.3" cy="171.9" r="1.9"/>
<circle class="p1" cx="437.3" cy="296.0" r="1.9"/>
<circle class="p2" cx="281.3" cy="228.3" r="1.9"/>
<circle class="p2" cx="125.3" cy="234.0" r="1.9"/>
<circle class="p2" cx="281.3" cy="273.5" r="1.9"/>
<circle class="p2" cx="437.3" cy="143.6" r="1.9"/>
<circle class="p3" cx="125.3" cy="250.9" r="1.9"/>
<circle class="p3" cx="47.3" cy="228.3" r="1.9"/>
<circle class="p2" cx="515.3" cy="228.3" r="1.9"/>
<circle class="p1" cx="515.3" cy="211.4" r="1.9"/>
<circle class="p3" cx="437.3" cy="239.6" r="1.9"/>
<circle class="p1" cx="203.3" cy="318.6" r="1.9"/>
<circle class="p2" cx="203.3" cy="245.2" r="1.9"/>
<circle class="p2" cx="125.3" cy="239.6" r="1.9"/>
<circle class="p1" cx="203.3" cy="267.8" r="1.9"/>
<circle class="p1" cx="593.3" cy="222.7" r="1.9"/>
<circle class="p1" cx="593.3" cy="200.1" r="1.9"/>
<circle class="p1" cx="515.3" cy="234.0" r="1.9"/>
<circle class="p1" cx="203.3" cy="380.8" r="1.9"/>
<circle class="p1" cx="593.3" cy="256.5" r="1.9"/>
<circle class="p2" cx="437.3" cy="239.6" r="1.9"/>
<circle class="p3" cx="203.3" cy="273.5" r="1.9"/>
<circle class="p3" cx="47.3" cy="442.8" r="1.9"/>
<circle class="p2" cx="203.3" cy="188.8" r="1.9"/>
<circle class="p1" cx="359.3" cy="256.5" r="1.9"/>
<circle class="p1" cx="203.3" cy="82.1" r="1.9"/>
<circle class="p1" cx="359.3" cy="262.2" r="1.9"/>
<circle class="p3" cx="125.3" cy="346.8" r="1.9"/>
<circle class="p2" cx="203.3" cy="194.4" r="1.9"/>
<circle class="p1" cx="515.3" cy="194.4" r="1.9"/>
<circle class="p3" cx="437.3" cy="296.0" r="1.9"/>
<circle class="p2" cx="359.3" cy="234.0" r="1.9"/>
<circle class="p1" cx="359.3" cy="318.6" r="1.9"/>
<circle class="p2" cx="203.3" cy="222.7" r="1.9"/>
<circle class="p1" cx="281.3" cy="245.2" r="1.9"/>
<circle class="p1" cx="593.3" cy="194.4" r="1.9"/>
<circle class="p3" cx="203.3" cy="256.5" r="1.9"/>
<circle class="p1" cx="515.3" cy="183.2" r="1.9"/>
<circle class="p3" cx="125.3" cy="262.2" r="1.9"/>
<circle class="p3" cx="281.3" cy="211.4" r="1.9"/>
<circle class="p3" cx="359.3" cy="262.2" r="1.9"/>
<circle class="p2" cx="125.3" cy="324.3" r="1.9"/>
<circle class="p1" cx="203.3" cy="442.8" r="1.9"/>
<circle class="p2" cx="281.3" cy="177.5" r="1.9"/>
<circle class="p3" cx="125.3" cy="194.4" r="1.9"/>
<circle class="p2" cx="281.3" cy="194.4" r="1.9"/>
<circle class="p2" cx="359.3" cy="318.6" r="1.9"/>
<circle class="p3" cx="281.3" cy="250.9" r="1.9"/>
<circle class="p2" cx="281.3" cy="301.7" r="1.9"/>
<circle class="p3" cx="359.3" cy="183.2" r="1.9"/>
<circle class="p1" cx="515.3" cy="273.5" r="1.9"/>
<circle class="p2" cx="125.3" cy="211.4" r="1.9"/>
<circle class="p2" cx="125.3" cy="205.7" r="1.9"/>
<circle class="p2" cx="359.3" cy="160.6" r="1.9"/>
<circle class="p3" cx="203.3" cy="250.9" r="1.9"/>
<circle class="p3" cx="359.3" cy="250.9" r="1.9"/>
<circle class="p1" cx="281.3" cy="239.6" r="1.9"/>
<circle class="p2" cx="515.3" cy="307.3" r="1.9"/>
<circle class="p1" cx="359.3" cy="346.8" r="1.9"/>
<circle class="p2" cx="203.3" cy="313.0" r="1.9"/>
<circle class="p2" cx="281.3" cy="177.5" r="1.9"/>
<circle class="p2" cx="203.3" cy="121.1" r="1.9"/>
<circle class="p1" cx="593.3" cy="183.2" r="1.9"/>
<circle class="p3" cx="359.3" cy="324.3" r="1.9"/>
<circle class="p3" cx="437.3" cy="234.0" r="1.9"/>
<circle class="p1" cx="437.3" cy="200.1" r="1.9"/>
<circle class="p3" cx="47.3" cy="194.4" r="1.9"/>
<circle class="p2" cx="203.3" cy="171.9" r="1.9"/>
<circle class="p3" cx="203.3" cy="211.4" r="1.9"/>
<circle class="p2" cx="515.3" cy="262.2" r="1.9"/>
<circle class="p2" cx="203.3" cy="126.7" r="1.9"/>
<circle class="p3" cx="203.3" cy="284.8" r="1.9"/>
<circle class="p2" cx="359.3" cy="324.3" r="1.9"/>
<circle class="p3" cx="203.3" cy="234.0" r="1.9"/>
<circle class="p2" cx="359.3" cy="279.1" r="1.9"/>
<circle class="p3" cx="281.3" cy="307.3" r="1.9"/>
<circle class="p1" cx="359.3" cy="138.0" r="1.9"/>
<circle class="p1" cx="359.3" cy="262.2" r="1.9"/>
<circle class="p3" cx="47.3" cy="279.1" r="1.9"/>
<circle class="p2" cx="437.3" cy="228.3" r="1.9"/>
<circle class="p2" cx="281.3" cy="250.9" r="1.9"/>
<circle class="p2" cx="359.3" cy="335.6" r="1.9"/>
<circle class="p1" cx="359.3" cy="318.6" r="1.9"/>
<circle class="p3" cx="281.3" cy="143.6" r="1.9"/>
<circle class="p1" cx="203.3" cy="296.0" r="1.9"/>
<circle class="p2" cx="281.3" cy="273.5" r="1.9"/>
<circle class="p3" cx="281.3" cy="301.7" r="1.9"/>
<circle class="p3" cx="125.3" cy="217.0" r="1.9"/>
<circle class="p1" cx="437.3" cy="222.7" r="1.9"/>
<circle class="p2" cx="437.3" cy="284.8" r="1.9"/>
<circle class="p1" cx="593.3" cy="188.8" r="1.9"/>
<circle class="p3" cx="47.3" cy="138.0" r="1.9"/>
<circle class="p2" cx="125.3" cy="307.3" r="1.9"/>
<circle class="p1" cx="281.3" cy="217.0" r="1.9"/>
<circle class="p3" cx="203.3" cy="290.4" r="1.9"/>
<circle class="p1" cx="515.3" cy="256.5" r="1.9"/>
<circle class="p3" cx="125.3" cy="307.3" r="1.9"/>
<circle class="p2" cx="515.3" cy="217.0" r="1.9"/>
<circle class="p1" cx="437.3" cy="234.0" r="1.9"/>
<circle class="p2" cx="281.3" cy="200.1" r="1.9"/>
<circle class="p1" cx="203.3" cy="267.8" r="1.9"/>
<circle class="p2" cx="359.3" cy="301.7" r="1.9"/>
<circle class="p3" cx="125.3" cy="222.7" r="1.9"/>
<circle class="p1" cx="437.3" cy="262.2" r="1.9"/>
<circle class="p2" cx="515.3" cy="296.0" r="1.9"/>
<circle class="p1" cx="593.3" cy="307.3" r="1.9"/>
<circle class="p2" cx="125.3" cy="234.0" r="1.9"/>
<circle class="p1" cx="515.3" cy="149.3" r="1.9"/>
<circle class="p1" cx="359.3" cy="313.0" r="1.9"/>
<circle class="p1" cx="515.3" cy="160.6" r="1.9"/>
<circle class="p1" cx="281.3" cy="262.2" r="1.9"/>
<circle class="p3" cx="281.3" cy="234.0" r="1.9"/>
<circle class="p1" cx="359.3" cy="200.1" r="1.9"/>
<circle class="p1" cx="437.3" cy="313.0" r="1.9"/>
<circle class="p3" cx="47.3" cy="329.9" r="1.9"/>
<circle class="p1" cx="203.3" cy="245.2" r="1.9"/>
<circle class="p1" cx="515.3" cy="188.8" r="1.9"/>
<circle class="p1" cx="281.3" cy="228.3" r="1.9"/>
<circle class="p1" cx="359.3" cy="279.1" r="1.9"/>
<circle class="p1" cx="281.3" cy="211.4" r="1.9"/>
<circle class="p2" cx="125.3" cy="318.6" r="1.9"/>
<circle class="p3" cx="437.3" cy="352.5" r="1.9"/>
<circle class="p1" cx="437.3" cy="307.3" r="1.9"/>
<circle class="p1" cx="593.3" cy="273.5" r="1.9"/>
<circle class="p3" cx="281.3" cy="341.2" r="1.9"/>
<circle class="p2" cx="437.3" cy="222.7" r="1.9"/>
<circle class="p1" cx="359.3" cy="228.3" r="1.9"/>
<circle class="p2" cx="359.3" cy="160.6" r="1.9"/>
<circle class="p2" cx="203.3" cy="267.8" r="1.9"/>
<circle class="p2" cx="515.3" cy="267.8" r="1.9"/>
<circle class="p2" cx="515.3" cy="132.4" r="1.9"/>
<circle class="p3" cx="47.3" cy="171.9" r="1.9"/>
<circle class="p1" cx="437.3" cy="335.6" r="1.9"/>
<circle class="p2" cx="125.3" cy="154.9" r="1.9"/>
<circle class="p1" cx="593.3" cy="307.3" r="1.9"/>
<circle class="p2" cx="281.3" cy="222.7" r="1.9"/>
<circle class="p1" cx="203.3" cy="375.1" r="1.9"/>
<circle class="p1" cx="203.3" cy="352.5" r="1.9"/>
<circle class="p1" cx="359.3" cy="154.9" r="1.9"/>
<circle class="p1" cx="359.3" cy="234.0" r="1.9"/>
<circle class="p1" cx="359.3" cy="284.8" r="1.9"/>
<circle class="p2" cx="437.3" cy="200.1" r="1.9"/>
<circle class="p2" cx="125.3" cy="374.7" r="1.9"/>
<circle class="p3" cx="203.3" cy="273.5" r="1.9"/>
<circle class="p1" cx="515.3" cy="234.0" r="1.9"/>
<circle class="p2" cx="515.3" cy="273.5" r="1.9"/>
<circle class="p2" cx="203.3" cy="290.4" r="1.9"/>
<circle class="p3" cx="281.3" cy="358.1" r="1.9"/>
<circle class="p1" cx="203.3" cy="267.8" r="1.9"/>
<circle class="p1" cx="359.3" cy="245.2" r="1.9"/>
<circle class="p1" cx="359.3" cy="290.4" r="1.9"/>
<circle class="p2" cx="281.3" cy="267.8" r="1.9"/>
<circle class="p1" cx="281.3" cy="245.2" r="1.9"/>
<circle class="p1" cx="437.3" cy="262.2" r="1.9"/>
<circle class="p1" cx="515.3" cy="335.6" r="1.9"/>
<circle class="p1" cx="203.3" cy="284.8" r="1.9"/>
<circle class="p1" cx="203.3" cy="239.6" r="1.9"/>
<circle class="p1" cx="593.3" cy="267.8" r="1.9"/>
<circle class="p1" cx="437.3" cy="200.1" r="1.9"/>
<circle class="p1" cx="281.3" cy="301.7" r="1.9"/>
<circle class="p1" cx="359.3" cy="228.3" r="1.9"/>
<circle class="p3" cx="437.3" cy="386.4" r="1.9"/>
<circle class="p1" cx="281.3" cy="279.1" r="1.9"/>
<circle class="p2" cx="437.3" cy="87.2" r="1.9"/>
<circle class="p3" cx="125.3" cy="403.2" r="1.9"/>
<circle class="p1" cx="281.3" cy="222.7" r="1.9"/>
<circle class="p1" cx="515.3" cy="318.6" r="1.9"/>
<circle class="p2" cx="437.3" cy="177.5" r="1.9"/>
<circle class="p2" cx="203.3" cy="104.5" r="1.9"/>
<circle class="p1" cx="515.3" cy="205.7" r="1.9"/>
<circle class="p1" cx="203.3" cy="239.6" r="1.9"/>
<circle class="p2" cx="281.3" cy="234.0" r="1.9"/>
<circle class="p1" cx="281.3" cy="284.8" r="1.9"/>
<circle class="p2" cx="203.3" cy="250.9" r="1.9"/>
<circle class="p3" cx="281.3" cy="82.1" r="1.9"/>
<circle class="p2" cx="359.3" cy="211.4" r="1.9"/>
<circle class="p3" cx="281.3" cy="217.0" r="1.9"/>
<circle class="p1" cx="359.3" cy="148.2" r="1.9"/>
<circle class="p2" cx="203.3" cy="217.0" r="1.9"/>
<circle class="p3" cx="437.3" cy="211.4" r="1.9"/>
<circle class="p2" cx="437.3" cy="228.3" r="1.9"/>
<circle class="p2" cx="125.3" cy="250.9" r="1.9"/>
<circle class="p2" cx="125.3" cy="154.9" r="1.9"/>
<circle class="p2" cx="203.3" cy="166.2" r="1.9"/>
<circle class="p3" cx="125.3" cy="279.1" r="1.9"/>
<circle class="p3" cx="203.3" cy="352.5" r="1.9"/>
<circle class="p1" cx="359.3" cy="341.2" r="1.9"/>
<circle class="p3" cx="203.3" cy="228.3" r="1.9"/>
<circle class="p2" cx="203.3" cy="228.3" r="1.9"/>
<circle class="p3" cx="359.3" cy="132.4" r="1.9"/>
<circle class="p2" cx="125.3" cy="335.6" r="1.9"/>
<circle class="p3" cx="281.3" cy="228.3" r="1.9"/>
<circle class="p1" cx="359.3" cy="228.3" r="1.9"/>
<circle class="p2" cx="359.3" cy="296.0" r="1.9"/>
<circle class="p2" cx="359.3" cy="205.7" r="1.9"/>
<circle class="p1" cx="359.3" cy="301.7" r="1.9"/>
<circle class="p3" cx="281.3" cy="183.2" r="1.9"/>
<circle class="p2" cx="437.3" cy="160.6" r="1.9"/>
<circle class="p2" cx="125.3" cy="188.8" r="1.9"/>
<circle class="p3" cx="359.3" cy="234.0" r="1.9"/>
<circle class="p3" cx="203.3" cy="313.0" r="1.9"/>
<circle class="p3" cx="281.3" cy="194.4" r="1.9"/>
<circle class="p1" cx="203.3" cy="211.4" r="1.9"/>
<circle class="p2" cx="203.3" cy="217.0" r="1.9"/>
<circle class="p3" cx="359.3" cy="183.2" r="1.9"/>
<circle class="p3" cx="47.3" cy="267.8" r="1.9"/>
<circle class="p1" cx="203.3" cy="245.2" r="1.9"/>
<circle class="p3" cx="281.3" cy="296.0" r="1.9"/>
<circle class="p2" cx="203.3" cy="335.6" r="1.9"/>
<circle class="p2" cx="437.3" cy="200.1" r="1.9"/>
<circle class="p1" cx="203.3" cy="217.0" r="1.9"/>
<circle class="p2" cx="203.3" cy="352.5" r="1.9"/>
<circle class="p3" cx="47.3" cy="234.0" r="1.9"/>
<circle class="p1" cx="515.3" cy="313.0" r="1.9"/>
<circle class="p3" cx="125.3" cy="284.8" r="1.9"/>
<circle class="p3" cx="125.3" cy="126.7" r="1.9"/>
<circle class="p3" cx="203.3" cy="217.0" r="1.9"/>
<circle class="p3" cx="125.3" cy="329.9" r="1.9"/>
<circle class="p3" cx="359.3" cy="341.2" r="1.9"/>
<circle class="p2" cx="359.3" cy="154.9" r="1.9"/>
<circle class="p1" cx="203.3" cy="301.7" r="1.9"/>
<circle class="p1" cx="281.3" cy="290.4" r="1.9"/>
<circle class="p2" cx="437.3" cy="279.1" r="1.9"/>
<circle class="p1" cx="359.3" cy="307.3" r="1.9"/>
<circle class="p2" cx="437.3" cy="194.4" r="1.9"/>
<circle class="p2" cx="359.3" cy="149.3" r="1.9"/>
<circle class="p3" cx="125.3" cy="318.6" r="1.9"/>
<circle class="p1" cx="359.3" cy="160.6" r="1.9"/>
<circle class="p3" cx="125.3" cy="273.5" r="1.9"/>
<circle class="p2" cx="515.3" cy="154.9" r="1.9"/>
<circle class="p1" cx="515.3" cy="307.3" r="1.9"/>
<circle class="p2" cx="125.3" cy="239.6" r="1.9"/>
<circle class="p1" cx="203.3" cy="239.6" r="1.9"/>
<circle class="p2" cx="281.3" cy="229.4" r="1.9"/>
<circle class="p2" cx="203.3" cy="121.1" r="1.9"/>
<circle class="p2" cx="515.3" cy="82.1" r="1.9"/>
<circle class="p3" cx="203.3" cy="126.8" r="1.9"/>
<circle class="p3" cx="125.3" cy="296.0" r="1.9"/>
<circle class="p1" cx="593.3" cy="239.6" r="1.9"/>
<circle class="p2" cx="203.3" cy="262.2" r="1.9"/>
<circle class="p2" cx="359.3" cy="380.8" r="1.9"/>
<circle class="p3" cx="437.3" cy="329.9" r="1.9"/>
<circle class="p1" cx="359.3" cy="160.6" r="1.9"/>
<circle class="p2" cx="125.3" cy="205.7" r="1.9"/>
<circle class="p3" cx="47.3" cy="143.6" r="1.9"/>
<circle class="p2" cx="437.3" cy="279.1" r="1.9"/>
<circle class="p1" cx="359.3" cy="329.9" r="1.9"/>
<circle class="p1" cx="203.3" cy="296.0" r="1.9"/>
<circle class="p1" cx="359.3" cy="160.6" r="1.9"/>
<circle class="p3" cx="47.3" cy="239.6" r="1.9"/>
<circle class="p2" cx="515.3" cy="256.5" r="1.9"/>
<circle class="p1" cx="281.3" cy="313.0" r="1.9"/>
<circle class="p1" cx="515.3" cy="205.7" r="1.9"/>
<circle class="p2" cx="359.3" cy="211.4" r="1.9"/>
<circle class="p2" cx="359.3" cy="296.0" r="1.9"/>
<circle class="p1" cx="203.3" cy="250.9" r="1.9"/>
<circle class="p1" cx="437.3" cy="290.4" r="1.9"/>
<circle class="p3" cx="47.3" cy="296.0" r="1.9"/>
<circle class="p2" cx="281.3" cy="346.8" r="1.9"/>
<circle class="p1" cx="515.3" cy="200.1" r="1.9"/>
<circle class="p2" cx="437.3" cy="115.4" r="1.9"/>
<circle class="p3" cx="437.3" cy="301.7" r="1.9"/>
<circle class="p3" cx="281.3" cy="324.3" r="1.9"/>
<circle class="p3" cx="47.3" cy="211.4" r="1.9"/>
<circle class="p3" cx="47.3" cy="301.7" r="1.9"/>
<circle class="p2" cx="437.3" cy="149.3" r="1.9"/>
<circle class="p3" cx="281.3" cy="200.1" r="1.9"/>
<circle class="p1" cx="359.3" cy="256.5" r="1.9"/>
<circle class="p2" cx="281.3" cy="239.6" r="1.9"/>
<circle class="p1" cx="593.3" cy="273.5" r="1.9"/>
<circle class="p1" cx="515.3" cy="121.1" r="1.9"/>
<circle class="p1" cx="359.3" cy="109.6" r="1.9"/>
<circle class="p3" cx="125.3" cy="141.0" r="1.9"/>
<circle class="p2" cx="281.3" cy="239.6" r="1.9"/>
<circle class="p1" cx="593.3" cy="183.2" r="1.9"/>
<circle class="p1" cx="515.3" cy="211.4" r="1.9"/>
<circle class="p3" cx="359.3" cy="307.3" r="1.9"/>
<circle class="p1" cx="359.3" cy="194.4" r="1.9"/>
<circle class="p2" cx="281.3" cy="329.9" r="1.9"/>
<circle class="p3" cx="47.3" cy="273.5" r="1.9"/>
<circle class="p3" cx="125.3" cy="217.0" r="1.9"/>
<circle class="p3" cx="47.3" cy="211.4" r="1.9"/>
<circle class="p2" cx="359.3" cy="205.7" r="1.9"/>
<circle class="p1" cx="203.3" cy="290.4" r="1.9"/>
<circle class="p2" cx="125.3" cy="250.9" r="1.9"/>
<circle class="p3" cx="125.3" cy="171.9" r="1.9"/>
<circle class="p2" cx="281.3" cy="279.1" r="1.9"/>
<circle class="p1" cx="281.3" cy="369.6" r="1.9"/>
<circle class="p1" cx="437.3" cy="166.2" r="1.9"/>
<circle class="p3" cx="359.3" cy="296.0" r="1.9"/>
<circle class="p2" cx="437.3" cy="262.2" r="1.9"/>
<circle class="p2" cx="515.3" cy="205.7" r="1.9"/>
<circle class="p1" cx="437.3" cy="211.4" r="1.9"/>
<circle class="p2" cx="125.3" cy="211.4" r="1.9"/>
<circle class="p3" cx="203.3" cy="301.7" r="1.9"/>
<circle class="p3" cx="125.3" cy="341.2" r="1.9"/>
<circle class="p1" cx="281.3" cy="239.6" r="1.9"/>
<circle class="p1" cx="359.3" cy="290.4" r="1.9"/>
<circle class="p2" cx="281.3" cy="228.3" r="1.9"/>
<circle class="p2" cx="515.3" cy="177.5" r="1.9"/>
<circle class="p1" cx="437.3" cy="211.4" r="1.9"/>
<circle class="p1" cx="593.3" cy="318.6" r="1.9"/>
<circle class="p3" cx="359.3" cy="228.3" r="1.9"/>
<circle class="p1" cx="203.3" cy="290.4" r="1.9"/>
<circle class="p1" cx="203.3" cy="290.4" r="1.9"/>
<circle class="p3" cx="359.3" cy="160.6" r="1.9"/>
<circle class="p2" cx="203.3" cy="267.8" r="1.9"/>
<circle class="p1" cx="593.3" cy="279.1" r="1.9"/>
<circle class="p1" cx="203.3" cy="369.4" r="1.9"/>
<circle class="p1" cx="281.3" cy="262.2" r="1.9"/>
<circle class="p1" cx="515.3" cy="217.0" r="1.9"/>
<circle class="p2" cx="125.3" cy="267.8" r="1.9"/>
<circle class="p3" cx="359.3" cy="245.2" r="1.9"/>
<circle class="p3" cx="125.3" cy="160.6" r="1.9"/>
<circle class="p3" cx="125.3" cy="143.6" r="1.9"/>
<circle class="p3" cx="125.3" cy="358.1" r="1.9"/>
<circle class="p3" cx="437.3" cy="160.6" r="1.9"/>
<circle class="p3" cx="47.3" cy="284.8" r="1.9"/>
<circle class="p3" cx="47.3" cy="228.3" r="1.9"/>
<circle class="p1" cx="281.3" cy="329.9" r="1.9"/>
<circle class="p3" cx="281.3" cy="188.8" r="1.9"/>
<circle class="p2" cx="281.3" cy="211.4" r="1.9"/>
<circle class="p1" cx="593.3" cy="267.8" r="1.9"/>
<circle class="p3" cx="203.3" cy="205.7" r="1.9"/>
<circle class="p2" cx="281.3" cy="183.2" r="1.9"/>
<circle class="p1" cx="281.3" cy="188.8" r="1.9"/>
<circle class="p1" cx="359.3" cy="205.7" r="1.9"/>
<circle class="p3" cx="203.3" cy="369.6" r="1.9"/>
<circle class="p1" cx="515.3" cy="222.7" r="1.9"/>
<circle class="p2" cx="437.3" cy="256.5" r="1.9"/>
<circle class="p2" cx="203.3" cy="369.4" r="1.9"/>
<circle class="p3" cx="47.3" cy="290.4" r="1.9"/>
<circle class="p1" cx="515.3" cy="279.1" r="1.9"/>
<circle class="p1" cx="203.3" cy="143.6" r="1.9"/>
<circle class="p2" cx="515.3" cy="138.0" r="1.9"/>
<circle class="p2" cx="359.3" cy="228.3" r="1.9"/>
<circle class="p3" cx="203.3" cy="194.4" r="1.9"/>
<circle class="p3" cx="359.3" cy="284.8" r="1.9"/>
<circle class="p1" cx="593.3" cy="194.4" r="1.9"/>
<circle class="p3" cx="47.3" cy="318.6" r="1.9"/>
<circle class="p2" cx="515.3" cy="245.2" r="1.9"/>
<circle class="p1" cx="593.3" cy="200.1" r="1.9"/>
<circle class="p2" cx="437.3" cy="228.3" r="1.9"/>
<circle class="p3" cx="203.3" cy="256.5" r="1.9"/>
<circle class="p1" cx="437.3" cy="211.4" r="1.9"/>
<circle class="p2" cx="125.3" cy="41.5" r="1.9"/>
<circle class="p1" cx="515.3" cy="250.9" r="1.9"/>
<circle class="p1" cx="203.3" cy="239.6" r="1.9"/>
<circle class="p3" cx="47.3" cy="329.9" r="1.9"/>
<circle class="p2" cx="359.3" cy="239.6" r="1.9"/>
<circle class="p3" cx="47.3" cy="183.2" r="1.9"/>
<circle class="p2" cx="125.3" cy="313.0" r="1.9"/>
<circle class="p3" cx="359.3" cy="324.3" r="1.9"/>
<circle class="p3" cx="47.3" cy="109.6" r="1.9"/>
<circle class="p2" cx="281.3" cy="239.6" r="1.9"/>
<circle class="p3" cx="47.3" cy="307.3" r="1.9"/>
<circle class="p2" cx="437.3" cy="121.1" r="1.9"/>
<circle class="p1" cx="359.3" cy="217.0" r="1.9"/>
<circle class="p3" cx="437.3" cy="194.4" r="1.9"/>
<circle class="p1" cx="515.3" cy="160.6" r="1.9"/>
<circle class="p1" cx="593.3" cy="318.6" r="1.9"/>
<circle class="p2" cx="437.3" cy="205.7" r="1.9"/>
<circle class="p2" cx="359.3" cy="239.6" r="1.9"/>
<circle class="p1" cx="359.3" cy="234.0" r="1.9"/>
<circle class="p3" cx="125.3" cy="217.0" r="1.9"/>
<circle class="p1" cx="593.3" cy="290.4" r="1.9"/>
<circle class="p2" cx="359.3" cy="138.0" r="1.9"/>
<circle class="p3" cx="281.3" cy="178.6" r="1.9"/>
<circle class="p2" cx="125.3" cy="149.3" r="1.9"/>
<circle class="p3" cx="359.3" cy="211.4" r="1.9"/>
<circle class="p3" cx="281.3" cy="239.6" r="1.9"/>
<circle class="p1" cx="593.3" cy="160.6" r="1.9"/>
<circle class="p2" cx="437.3" cy="36.4" r="1.9"/>
<circle class="p3" cx="125.3" cy="120.7" r="1.9"/>
<circle class="p3" cx="47.3" cy="267.8" r="1.9"/>
<circle class="p2" cx="515.3" cy="177.5" r="1.9"/>
<circle class="p2" cx="203.3" cy="307.3" r="1.9"/>
<circle class="p1" cx="281.3" cy="228.3" r="1.9"/>
<circle class="p1" cx="515.3" cy="335.6" r="1.9"/>
<circle class="p2" cx="281.3" cy="234.0" r="1.9"/>
<circle class="p2" cx="203.3" cy="250.9" r="1.9"/>
<circle class="p2" cx="515.3" cy="228.3" r="1.9"/>
<circle class="p1" cx="203.3" cy="245.2" r="1.9"/>
<circle class="p1" cx="281.3" cy="420.4" r="1.9"/>
<circle class="p3" cx="281.3" cy="171.9" r="1.9"/>
<circle class="p1" cx="281.3" cy="256.5" r="1.9"/>
<circle class="p3" cx="125.3" cy="301.7" r="1.9"/>
<circle class="p1" cx="593.3" cy="200.1" r="1.9"/>
<circle class="p2" cx="203.3" cy="87.2" r="1.9"/>
<circle class="p1" cx="203.3" cy="234.0" r="1.9"/>
<circle class="p1" cx="515.3" cy="200.1" r="1.9"/>
<circle class="p1" cx="515.3" cy="301.7" r="1.9"/>
<circle class="p3" cx="203.3" cy="346.8" r="1.9"/>
<circle class="p1" cx="203.3" cy="324.3" r="1.9"/>
<circle class="p1" cx="359.3" cy="154.9" r="1.9"/>
<circle class="p2" cx="203.3" cy="262.2" r="1.9"/>
<circle class="p1" cx="281.3" cy="245.2" r="1.9"/>
<circle class="p3" cx="203.3" cy="256.5" r="1.9"/>
<circle class="p3" cx="281.3" cy="267.8" r="1.9"/>
<circle class="p3" cx="281.3" cy="352.5" r="1.9"/>
<circle class="p2" cx="203.3" cy="222.7" r="1.9"/>
<circle class="p2" cx="203.3" cy="211.4" r="1.9"/>
<circle class="p3" cx="125.3" cy="279.1" r="1.9"/>
<circle class="p1" cx="359.3" cy="245.2" r="1.9"/>
<circle class="p1" cx="593.3" cy="313.0" r="1.9"/>
<circle class="p3" cx="281.3" cy="239.6" r="1.9"/>
<circle class="p3" cx="47.3" cy="177.5" r="1.9"/>
<circle class="p2" cx="359.3" cy="262.2" r="1.9"/>
<circle class="p2" cx="359.3" cy="296.0" r="1.9"/>
<circle class="p1" cx="281.3" cy="234.0" r="1.9"/>
<circle class="p2" cx="515.3" cy="273.5" r="1.9"/>
<circle class="p1" cx="515.3" cy="228.3" r="1.9"/>
<circle class="p2" cx="125.3" cy="313.0" r="1.9"/>
<circle class="p2" cx="437.3" cy="171.9" r="1.9"/>
<circle class="p1" cx="359.3" cy="335.6" r="1.9"/>
<circle class="p2" cx="515.3" cy="183.2" r="1.9"/>
<circle class="p3" cx="437.3" cy="296.0" r="1.9"/>
<circle class="p2" cx="203.3" cy="211.4" r="1.9"/>
<circle class="p1" cx="359.3" cy="267.8" r="1.9"/>
<circle class="p1" cx="593.3" cy="239.6" r="1.9"/>
<circle class="p3" cx="281.3" cy="234.0" r="1.9"/>
<circle class="p1" cx="437.3" cy="279.1" r="1.9"/>
<circle class="p3" cx="281.3" cy="166.2" r="1.9"/>
<circle class="p1" cx="359.3" cy="188.8" r="1.9"/>
<circle class="p3" cx="47.3" cy="256.5" r="1.9"/>
<circle class="p1" cx="437.3" cy="245.2" r="1.9"/>
<circle class="p1" cx="593.3" cy="301.7" r="1.9"/>
<circle class="p1" cx="437.3" cy="188.8" r="1.9"/>
<circle class="p3" cx="281.3" cy="313.0" r="1.9"/>
<circle class="p3" cx="203.3" cy="398.1" r="1.9"/>
<circle class="p2" cx="203.3" cy="217.0" r="1.9"/>
<circle class="p1" cx="593.3" cy="279.1" r="1.9"/>
<circle class="p2" cx="281.3" cy="301.7" r="1.9"/>
<circle class="p1" cx="281.3" cy="335.6" r="1.9"/>
<circle class="p3" cx="437.3" cy="329.9" r="1.9"/>
<circle class="p3" cx="125.3" cy="239.6" r="1.9"/>
<circle class="p3" cx="281.3" cy="279.1" r="1.9"/>
<circle class="p3" cx="47.3" cy="149.3" r="1.9"/>
<circle class="p1" cx="281.3" cy="313.0" r="1.9"/>
<circle class="p3" cx="437.3" cy="267.8" r="1.9"/>
<circle class="p1" cx="593.3" cy="239.6" r="1.9"/>
<circle class="p2" cx="125.3" cy="296.0" r="1.9"/>
<circle class="p2" cx="359.3" cy="245.2" r="1.9"/>
<circle class="p2" cx="437.3" cy="160.6" r="1.9"/>
<circle class="p1" cx="281.3" cy="171.9" r="1.9"/>
<circle class="p1" cx="515.3" cy="250.9" r="1.9"/>
<circle class="p3" cx="359.3" cy="262.2" r="1.9"/>
<circle class="p1" cx="437.3" cy="211.4" r="1.9"/>
<circle class="p2" cx="515.3" cy="256.5" r="1.9"/>
<circle class="p2" cx="281.3" cy="183.2" r="1.9"/>
<circle class="p3" cx="125.3" cy="284.8" r="1.9"/>
<circle class="p1" cx="593.3" cy="171.9" r="1.9"/>
<circle class="p3" cx="359.3" cy="211.4" r="1.9"/>
<circle class="p3" cx="281.3" cy="358.1" r="1.9"/>
<circle class="p3" cx="47.3" cy="228.3" r="1.9"/>
<circle class="p1" cx="515.3" cy="250.9" r="1.9"/>
<circle class="p2" cx="281.3" cy="217.0" r="1.9"/>
<circle class="p2" cx="203.3" cy="222.7" r="1.9"/>
<circle class="p1" cx="359.3" cy="262.2" r="1.9"/>
<circle class="p1" cx="515.3" cy="290.4" r="1.9"/>
<circle class="p1" cx="203.3" cy="250.9" r="1.9"/>
<circle class="p3" cx="203.3" cy="154.9" r="1.9"/>
<circle class="p2" cx="515.3" cy="245.2" r="1.9"/>
<circle class="p2" cx="203.3" cy="154.9" r="1.9"/>
<circle class="p1" cx="359.3" cy="341.2" r="1.9"/>
<circle class="p2" cx="515.3" cy="234.0" r="1.9"/>
<circle class="p1" cx="281.3" cy="352.5" r="1.9"/>
<circle class="p3" cx="359.3" cy="93.3" r="1.9"/>
<circle class="p2" cx="437.3" cy="250.9" r="1.9"/>
<circle class="p3" cx="47.3" cy="239.6" r="1.9"/>
<circle class="p2" cx="437.3" cy="200.1" r="1.9"/>
<circle class="p1" cx="203.3" cy="307.3" r="1.9"/>
<circle class="p2" cx="281.3" cy="166.2" r="1.9"/>
<circle class="p3" cx="125.3" cy="262.2" r="1.9"/>
<circle class="p2" cx="515.3" cy="273.5" r="1.9"/>
<circle class="p1" cx="515.3" cy="160.6" r="1.9"/>
<circle class="p1" cx="203.3" cy="222.7" r="1.9"/>
<circle class="p3" cx="281.3" cy="335.6" r="1.9"/>
<circle class="p2" cx="359.3" cy="177.5" r="1.9"/>
<circle class="p3" cx="437.3" cy="313.0" r="1.9"/>
<circle class="p3" cx="359.3" cy="234.0" r="1.9"/>
<circle class="p2" cx="203.3" cy="352.5" r="1.9"/>
<circle class="p2" cx="359.3" cy="267.8" r="1.9"/>
<circle class="p1" cx="593.3" cy="245.2" r="1.9"/>
<circle class="p3" cx="281.3" cy="279.1" r="1.9"/>
<circle class="p1" cx="593.3" cy="290.4" r="1.9"/>
<circle class="p2" cx="359.3" cy="250.9" r="1.9"/>
<circle class="p3" cx="203.3" cy="234.0" r="1.9"/>
<circle class="p3" cx="203.3" cy="250.9" r="1.9"/>
<circle class="p1" cx="437.3" cy="267.8" r="1.9"/>
<circle class="p3" cx="47.3" cy="222.7" r="1.9"/>
<circle class="p3" cx="359.3" cy="166.2" r="1.9"/>
<circle class="p2" cx="125.3" cy="284.8" r="1.9"/>
<circle class="p1" cx="515.3" cy="256.5" r="1.9"/>
<circle class="p2" cx="125.3" cy="318.6" r="1.9"/>
<circle class="p2" cx="437.3" cy="194.4" r="1.9"/>
<circle class="p3" cx="47.3" cy="245.2" r="1.9"/>
<circle class="p1" cx="593.3" cy="262.2" r="1.9"/>
<circle class="p1" cx="437.3" cy="183.2" r="1.9"/>
<circle class="p3" cx="125.3" cy="290.4" r="1.9"/>
<circle class="p1" cx="515.3" cy="228.3" r="1.9"/>
<circle class="p2" cx="515.3" cy="160.6" r="1.9"/>
<circle class="p3" cx="359.3" cy="192.9" r="1.9"/>
<circle class="p2" cx="203.3" cy="194.4" r="1.9"/>
<circle class="p1" cx="203.3" cy="307.3" r="1.9"/>
<circle class="p3" cx="47.3" cy="300.6" r="1.9"/>
<circle class="p2" cx="281.3" cy="217.0" r="1.9"/>
<circle class="p2" cx="437.3" cy="149.3" r="1.9"/>
<circle class="p3" cx="47.3" cy="217.0" r="1.9"/>
<circle class="p1" cx="437.3" cy="307.3" r="1.9"/>
<circle class="p1" cx="515.3" cy="313.0" r="1.9"/>
<circle class="p1" cx="515.3" cy="341.2" r="1.9"/>
<circle class="p3" cx="47.3" cy="217.0" r="1.9"/>
<circle class="p2" cx="515.3" cy="273.5" r="1.9"/>
<circle class="p2" cx="437.3" cy="160.6" r="1.9"/>
<circle class="p3" cx="47.3" cy="318.6" r="1.9"/>
<circle class="p2" cx="281.3" cy="318.6" r="1.9"/>
<circle class="p3" cx="281.3" cy="262.2" r="1.9"/>
<circle class="p2" cx="281.3" cy="211.4" r="1.9"/>
<circle class="p3" cx="203.3" cy="290.4" r="1.9"/>
<circle class="p2" cx="359.3" cy="245.2" r="1.9"/>
<circle class="p3" cx="47.3" cy="279.1" r="1.9"/>
<circle class="p2" cx="203.3" cy="279.1" r="1.9"/>
<circle class="p3" cx="203.3" cy="301.7" r="1.9"/>
<circle class="p3" cx="125.3" cy="171.9" r="1.9"/>
<circle class="p1" cx="359.3" cy="245.2" r="1.9"/>
<circle class="p1" cx="281.3" cy="222.7" r="1.9"/>
<circle class="p3" cx="281.3" cy="296.0" r="1.9"/>
<circle class="p1" cx="359.3" cy="239.6" r="1.9"/>
<circle class="p3" cx="203.3" cy="205.7" r="1.9"/>
<circle class="p1" cx="437.3" cy="205.7" r="1.9"/>
<circle class="p2" cx="515.3" cy="284.8" r="1.9"/>
<circle class="p2" cx="515.3" cy="318.6" r="1.9"/>
<circle class="p3" cx="125.3" cy="324.3" r="1.9"/>
<circle class="p3" cx="437.3" cy="290.4" r="1.9"/>
<circle class="p3" cx="125.3" cy="194.4" r="1.9"/>
<circle class="p1" cx="203.3" cy="310.7" r="1.9"/>
<circle class="p2" cx="203.3" cy="154.9" r="1.9"/>
<circle class="p3" cx="47.3" cy="290.4" r="1.9"/>
<circle class="p1" cx="359.3" cy="166.2" r="1.9"/>
<circle class="p3" cx="359.3" cy="143.6" r="1.9"/>
<circle class="p3" cx="203.3" cy="273.5" r="1.9"/>
<circle class="p3" cx="359.3" cy="234.0" r="1.9"/>
<circle class="p2" cx="359.3" cy="335.6" r="1.9"/>
<circle class="p3" cx="437.3" cy="318.6" r="1.9"/>
<circle class="p1" cx="281.3" cy="262.2" r="1.9"/>
<circle class="p2" cx="125.3" cy="256.5" r="1.9"/>
<circle class="p2" cx="359.3" cy="138.0" r="1.9"/>
<circle class="p2" cx="125.3" cy="209.1" r="1.9"/>
<circle class="p1" cx="437.3" cy="228.3" r="1.9"/>
<circle class="p1" cx="437.3" cy="98.4" r="1.9"/>
<circle class="p2" cx="125.3" cy="335.6" r="1.9"/>
<circle class="p3" cx="359.3" cy="239.6" r="1.9"/>
<circle class="p2" cx="281.3" cy="290.4" r="1.9"/>
<circle class="p1" cx="203.3" cy="143.6" r="1.9"/>
<circle class="p1" cx="593.3" cy="290.4" r="1.9"/>
<circle class="p1" cx="437.3" cy="205.7" r="1.9"/>
<circle class="p2" cx="359.3" cy="256.5" r="1.9"/>
<circle class="p1" cx="281.3" cy="341.2" r="1.9"/>
<circle class="p2" cx="125.3" cy="228.3" r="1.9"/>
<circle class="p2" cx="125.3" cy="234.0" r="1.9"/>
<circle class="p3" cx="359.3" cy="211.4" r="1.9"/>
<circle class="p3" cx="203.3" cy="358.1" r="1.9"/>
<circle class="p1" cx="203.3" cy="245.2" r="1.9"/>
<circle class="p1" cx="203.3" cy="239.6" r="1.9"/>
<circle class="p1" cx="359.3" cy="154.9" r="1.9"/>
<circle class="p2" cx="515.3" cy="279.1" r="1.9"/>
<circle class="p2" cx="515.3" cy="329.9" r="1.9"/>
<circle class="p3" cx="203.3" cy="222.7" r="1.9"/>
<circle class="p3" cx="203.3" cy="341.2" r="1.9"/>
<circle class="p3" cx="125.3" cy="160.6" r="1.9"/>
<circle class="p2" cx="125.3" cy="290.4" r="1.9"/>
<circle class="p2" cx="281.3" cy="154.9" r="1.9"/>
<circle class="p3" cx="47.3" cy="222.7" r="1.9"/>
<circle class="p2" cx="359.3" cy="284.8" r="1.9"/>
<circle class="p2" cx="437.3" cy="267.8" r="1.9"/>
<circle class="p3" cx="281.3" cy="267.8" r="1.9"/>
<circle class="p3" cx="125.3" cy="177.5" r="1.9"/>
<circle class="p2" cx="125.3" cy="228.3" r="1.9"/>
<circle class="p1" cx="203.3" cy="194.4" r="1.9"/>
<circle class="p2" cx="281.3" cy="217.0" r="1.9"/>
<circle class="p2" cx="437.3" cy="177.5" r="1.9"/>
<circle class="p2" cx="125.3" cy="250.9" r="1.9"/>
<circle class="p3" cx="203.3" cy="217.0" r="1.9"/>
<circle class="p2" cx="515.3" cy="273.5" r="1.9"/>
<circle class="p1" cx="515.3" cy="310.7" r="1.9"/>
<circle class="p2" cx="203.3" cy="256.5" r="1.9"/>
<circle class="p1" cx="203.3" cy="290.4" r="1.9"/>
<circle class="p2" cx="125.3" cy="166.2" r="1.9"/>
<circle class="p1" cx="593.3" cy="284.8" r="1.9"/>
<circle class="p3" cx="359.3" cy="194.4" r="1.9"/>
<circle class="p1" cx="281.3" cy="250.9" r="1.9"/>
<circle class="p2" cx="203.3" cy="307.3" r="1.9"/>
<circle class="p3" cx="47.3" cy="183.2" r="1.9"/>
<circle class="p2" cx="437.3" cy="217.0" r="1.9"/>
<circle class="p1" cx="359.3" cy="284.8" r="1.9"/>
<circle class="p3" cx="359.3" cy="200.1" r="1.9"/>
<circle class="p1" cx="515.3" cy="188.8" r="1.9"/>
<circle class="p3" cx="125.3" cy="320.9" r="1.9"/>
<circle class="p2" cx="515.3" cy="126.7" r="1.9"/>
<circle class="p2" cx="125.3" cy="177.5" r="1.9"/>
<circle class="p1" cx="281.3" cy="256.5" r="1.9"/>
<circle class="p2" cx="203.3" cy="307.3" r="1.9"/>
<circle class="p1" cx="593.3" cy="138.0" r="1.9"/>
<circle class="p1" cx="281.3" cy="296.0" r="1.9"/>
<circle class="p1" cx="593.3" cy="318.6" r="1.9"/>
<circle class="p3" cx="359.3" cy="217.0" r="1.9"/>
<circle class="p2" cx="203.3" cy="194.4" r="1.9"/>
<circle class="p3" cx="203.3" cy="115.4" r="1.9"/>
<circle class="p2" cx="515.3" cy="205.7" r="1.9"/>
<circle class="p1" cx="281.3" cy="341.2" r="1.9"/>
<circle class="p1" cx="281.3" cy="279.1" r="1.9"/>
<circle class="p2" cx="359.3" cy="154.9" r="1.9"/>
<circle class="p2" cx="359.3" cy="177.5" r="1.9"/>
<circle class="p1" cx="281.3" cy="166.2" r="1.9"/>
<circle class="p1" cx="359.3" cy="262.2" r="1.9"/>
<circle class="p1" cx="281.3" cy="273.5" r="1.9"/>
<circle class="p1" cx="593.3" cy="177.5" r="1.9"/>
<circle class="p2" cx="359.3" cy="262.2" r="1.9"/>
<circle class="p2" cx="281.3" cy="143.6" r="1.9"/>
<circle class="p2" cx="203.3" cy="313.0" r="1.9"/>
<circle class="p3" cx="281.3" cy="228.3" r="1.9"/>
<circle class="p3" cx="125.3" cy="234.0" r="1.9"/>
<circle class="p1" cx="593.3" cy="307.3" r="1.9"/>
<circle class="p3" cx="203.3" cy="245.2" r="1.9"/>
<circle class="p2" cx="203.3" cy="245.2" r="1.9"/>
<circle class="p3" cx="203.3" cy="273.5" r="1.9"/>
<circle class="p2" cx="125.3" cy="239.6" r="1.9"/>
<circle class="p3" cx="47.3" cy="177.5" r="1.9"/>
<circle class="p2" cx="281.3" cy="329.9" r="1.9"/>
<circle class="p1" cx="515.3" cy="262.2" r="1.9"/>
<circle class="p3" cx="437.3" cy="217.0" r="1.9"/>
<circle class="p1" cx="203.3" cy="296.0" r="1.9"/>
<circle class="p1" cx="515.3" cy="115.4" r="1.9"/>
<circle class="p1" cx="593.3" cy="154.9" r="1.9"/>
<circle class="p1" cx="281.3" cy="358.1" r="1.9"/>
<circle class="p3" cx="437.3" cy="320.9" r="1.9"/>
<circle class="p2" cx="359.3" cy="301.7" r="1.9"/>
<circle class="p1" cx="359.3" cy="177.5" r="1.9"/>
<circle class="p2" cx="359.3" cy="273.5" r="1.9"/>
<circle class="p2" cx="281.3" cy="313.0" r="1.9"/>
<circle class="p2" cx="437.3" cy="262.2" r="1.9"/>
<circle class="p1" cx="281.3" cy="284.8" r="1.9"/>
<circle class="p1" cx="359.3" cy="318.6" r="1.9"/>
<circle class="p3" cx="47.3" cy="290.4" r="1.9"/>
<circle class="p2" cx="281.3" cy="442.8" r="1.9"/>
<circle class="p2" cx="359.3" cy="324.3" r="1.9"/>
<circle class="p2" cx="281.3" cy="358.1" r="1.9"/>
<circle class="p3" cx="125.3" cy="166.2" r="1.9"/>
<circle class="p1" cx="359.3" cy="234.0" r="1.9"/>
<circle class="p3" cx="47.3" cy="262.2" r="1.9"/>
<circle class="p2" cx="359.3" cy="228.3" r="1.9"/>
<circle class="p2" cx="203.3" cy="183.2" r="1.9"/>
<circle class="p3" cx="203.3" cy="177.5" r="1.9"/>
<circle class="p2" cx="125.3" cy="335.6" r="1.9"/>
<circle class="p1" cx="203.3" cy="279.1" r="1.9"/>
<circle class="p3" cx="359.3" cy="211.4" r="1.9"/>
<circle class="p2" cx="281.3" cy="171.9" r="1.9"/>
<circle class="p2" cx="281.3" cy="256.5" r="1.9"/>
<circle class="p3" cx="203.3" cy="358.5" r="1.9"/>
<circle class="p3" cx="359.3" cy="239.6" r="1.9"/>
<circle class="p1" cx="281.3" cy="307.3" r="1.9"/>
<circle class="p1" cx="359.3" cy="239.6" r="1.9"/>
<circle class="p2" cx="203.3" cy="351.4" r="1.9"/>
<circle class="p3" cx="281.3" cy="284.8" r="1.9"/>
<circle class="p1" cx="203.3" cy="200.1" r="1.9"/>
<circle class="p2" cx="125.3" cy="335.6" r="1.9"/>
<circle class="p1" cx="437.3" cy="273.5" r="1.9"/>
<circle class="p1" cx="281.3" cy="284.8" r="1.9"/>
<circle class="p1" cx="593.3" cy="369.6" r="1.9"/>
<circle class="p3" cx="437.3" cy="205.7" r="1.9"/>
<circle class="p3" cx="437.3" cy="188.8" r="1.9"/>
<circle class="p2" cx="203.3" cy="267.8" r="1.9"/>
<circle class="p2" cx="203.3" cy="239.6" r="1.9"/>
<circle class="p3" cx="47.3" cy="341.2" r="1.9"/>
<circle class="p3" cx="125.3" cy="307.3" r="1.9"/>
<circle class="p3" cx="47.3" cy="290.4" r="1.9"/>
<circle class="p1" cx="359.3" cy="250.9" r="1.9"/>
<circle class="p1" cx="593.3" cy="200.1" r="1.9"/>
<circle class="p1" cx="515.3" cy="205.7" r="1.9"/>
<circle class="p1" cx="437.3" cy="369.6" r="1.9"/>
<circle class="p3" cx="203.3" cy="329.9" r="1.9"/>
<circle class="p2" cx="359.3" cy="160.6" r="1.9"/>
<circle class="p2" cx="359.3" cy="250.9" r="1.9"/>
<circle class="p3" cx="47.3" cy="228.3" r="1.9"/>
<circle class="p1" cx="437.3" cy="273.5" r="1.9"/>
<circle class="p2" cx="203.3" cy="267.8" r="1.9"/>
<circle class="p3" cx="203.3" cy="250.9" r="1.9"/>
<circle class="p2" cx="281.3" cy="194.4" r="1.9"/>
<circle class="p2" cx="203.3" cy="194.4" r="1.9"/>
<circle class="p1" cx="281.3" cy="104.5" r="1.9"/>
<circle class="p1" cx="593.3" cy="250.9" r="1.9"/>
<circle class="p3" cx="125.3" cy="267.8" r="1.9"/>
<circle class="p2" cx="281.3" cy="171.9" r="1.9"/>
<circle class="p2" cx="125.3" cy="217.0" r="1.9"/>
<circle class="p2" cx="125.3" cy="245.2" r="1.9"/>
<circle class="p3" cx="281.3" cy="290.4" r="1.9"/>
<circle class="p2" cx="359.3" cy="149.3" r="1.9"/>
<circle class="p1" cx="515.3" cy="200.1" r="1.9"/>
<circle class="p3" cx="47.3" cy="284.8" r="1.9"/>
<circle class="p1" cx="359.3" cy="296.0" r="1.9"/>
<circle class="p1" cx="203.3" cy="217.0" r="1.9"/>
<circle class="p2" cx="125.3" cy="177.5" r="1.9"/>
<circle class="p1" cx="359.3" cy="351.4" r="1.9"/>
<circle class="p1" cx="281.3" cy="307.3" r="1.9"/>
<circle class="p2" cx="281.3" cy="171.9" r="1.9"/>
<circle class="p3" cx="203.3" cy="318.6" r="1.9"/>
<circle class="p1" cx="593.3" cy="324.3" r="1.9"/>
<circle class="p2" cx="359.3" cy="143.6" r="1.9"/>
<circle class="p3" cx="281.3" cy="442.8" r="1.9"/>
<circle class="p1" cx="359.3" cy="392.0" r="1.9"/>
<circle class="p1" cx="359.3" cy="290.4" r="1.9"/>
<circle class="p1" cx="437.3" cy="149.3" r="1.9"/>
<circle class="p2" cx="359.3" cy="132.4" r="1.9"/>
<circle class="p1" cx="281.3" cy="313.0" r="1.9"/>
<circle class="p1" cx="203.3" cy="313.0" r="1.9"/>
<circle class="p3" cx="203.3" cy="256.5" r="1.9"/>
<circle class="p3" cx="281.3" cy="256.5" r="1.9"/>
<circle class="p2" cx="281.3" cy="143.6" r="1.9"/>
<circle class="p2" cx="281.3" cy="115.4" r="1.9"/>
<circle class="p1" cx="593.3" cy="171.9" r="1.9"/>
<circle class="p3" cx="203.3" cy="228.3" r="1.9"/>
<circle class="p2" cx="437.3" cy="228.3" r="1.9"/>
<circle class="p1" cx="359.3" cy="279.1" r="1.9"/>
<circle class="p3" cx="437.3" cy="358.1" r="1.9"/>
<circle class="p3" cx="203.3" cy="262.2" r="1.9"/>
<circle class="p3" cx="203.3" cy="313.0" r="1.9"/>
<circle class="p1" cx="359.3" cy="239.6" r="1.9"/>
<circle class="p1" cx="515.3" cy="103.5" r="1.9"/>
<circle class="p1" cx="593.3" cy="194.4" r="1.9"/>
<circle class="p1" cx="437.3" cy="279.1" r="1.9"/>
<circle class="p3" cx="47.3" cy="104.5" r="1.9"/>
<circle class="p3" cx="359.3" cy="363.6" r="1.9"/>
<circle class="p3" cx="125.3" cy="324.3" r="1.9"/>
<circle class="p3" cx="281.3" cy="234.0" r="1.9"/>
<circle class="p2" cx="515.3" cy="183.2" r="1.9"/>
<circle class="p2" cx="203.3" cy="296.0" r="1.9"/>
<circle class="p3" cx="281.3" cy="267.8" r="1.9"/>
<circle class="p3" cx="281.3" cy="341.2" r="1.9"/>
<circle class="p2" cx="359.3" cy="228.3" r="1.9"/>
<circle class="p1" cx="593.3" cy="329.9" r="1.9"/>
<circle class="p3" cx="125.3" cy="211.4" r="1.9"/>
<circle class="p2" cx="281.3" cy="284.8" r="1.9"/>
<circle class="p1" cx="281.3" cy="217.0" r="1.9"/>
<circle class="p2" cx="515.3" cy="307.3" r="1.9"/>
<circle class="p3" cx="125.3" cy="284.8" r="1.9"/>
<circle class="p3" cx="47.3" cy="301.7" r="1.9"/>
<circle class="p1" cx="515.3" cy="205.7" r="1.9"/>
<circle class="p2" cx="281.3" cy="267.8" r="1.9"/>
<circle class="p3" cx="437.3" cy="222.7" r="1.9"/>
<circle class="p2" cx="125.3" cy="279.1" r="1.9"/>
<circle class="p1" cx="203.3" cy="222.7" r="1.9"/>
<circle class="p2" cx="437.3" cy="245.2" r="1.9"/>
<circle class="p1" cx="203.3" cy="160.6" r="1.9"/>
<circle class="p3" cx="359.3" cy="279.1" r="1.9"/>
<circle class="p3" cx="359.3" cy="235.5" r="1.9"/>
<circle class="p1" cx="437.3" cy="313.0" r="1.9"/>
<circle class="p3" cx="203.3" cy="252.8" r="1.9"/>
<circle class="p1" cx="593.3" cy="329.9" r="1.9"/>
<circle class="p2" cx="125.3" cy="262.2" r="1.9"/>
<circle class="p3" cx="47.3" cy="76.0" r="1.9"/>
<circle class="p2" cx="281.3" cy="267.8" r="1.9"/>
<circle class="p1" cx="359.3" cy="296.0" r="1.9"/>
<circle class="p3" cx="359.3" cy="228.3" r="1.9"/>
<circle class="p3" cx="125.3" cy="324.3" r="1.9"/>
<circle class="p3" cx="359.3" cy="177.5" r="1.9"/>
<circle class="p2" cx="359.3" cy="234.0" r="1.9"/>
<circle class="p1" cx="437.3" cy="313.0" r="1.9"/>
<circle class="p3" cx="203.3" cy="280.2" r="1.9"/>
<circle class="p3" cx="281.3" cy="171.9" r="1.9"/>
<circle class="p3" cx="359.3" cy="250.9" r="1.9"/>
<circle class="p1" cx="359.3" cy="76.0" r="1.9"/>
<circle class="p2" cx="203.3" cy="392.0" r="1.9"/>
<circle class="p3" cx="359.3" cy="245.2" r="1.9"/>
<circle class="p2" cx="437.3" cy="171.9" r="1.9"/>
<circle class="p1" cx="593.3" cy="279.1" r="1.9"/>
<circle class="p3" cx="281.3" cy="245.2" r="1.9"/>
<circle class="p3" cx="359.3" cy="194.4" r="1.9"/>
<circle class="p1" cx="359.3" cy="273.5" r="1.9"/>
<circle class="p2" cx="515.3" cy="171.9" r="1.9"/>
<circle class="p2" cx="359.3" cy="188.8" r="1.9"/>
<circle class="p2" cx="203.3" cy="217.0" r="1.9"/>
<circle class="p3" cx="47.3" cy="211.4" r="1.9"/>
<circle class="p1" cx="203.3" cy="380.7" r="1.9"/>
<circle class="p1" cx="203.3" cy="154.9" r="1.9"/>
<circle class="p1" cx="359.3" cy="109.8" r="1.9"/>
<circle class="p3" cx="125.3" cy="273.5" r="1.9"/>
<circle class="p1" cx="359.3" cy="245.2" r="1.9"/>
<circle class="p1" cx="203.3" cy="290.4" r="1.9"/>
<circle class="p3" cx="203.3" cy="160.6" r="1.9"/>
<circle class="p1" cx="437.3" cy="250.9" r="1.9"/>
<circle class="p3" cx="47.3" cy="296.0" r="1.9"/>
<circle class="p1" cx="359.3" cy="250.9" r="1.9"/>
<circle class="p3" cx="281.3" cy="245.2" r="1.9"/>
<circle class="p3" cx="47.3" cy="301.7" r="1.9"/>
<circle class="p3" cx="47.3" cy="279.1" r="1.9"/>
<circle class="p1" cx="203.3" cy="335.6" r="1.9"/>
<circle class="p2" cx="281.3" cy="200.1" r="1.9"/>
<circle class="p2" cx="125.3" cy="188.8" r="1.9"/>
<circle class="p3" cx="281.3" cy="310.7" r="1.9"/>
<circle class="p3" cx="203.3" cy="369.4" r="1.9"/>
<circle class="p3" cx="281.3" cy="222.7" r="1.9"/>
<circle class="p3" cx="359.3" cy="267.8" r="1.9"/>
<circle class="p3" cx="359.3" cy="284.8" r="1.9"/>
<circle class="p3" cx="47.3" cy="352.5" r="1.9"/>
<circle class="p3" cx="47.3" cy="228.3" r="1.9"/>
<circle class="p1" cx="515.3" cy="132.4" r="1.9"/>
<circle class="p1" cx="281.3" cy="228.3" r="1.9"/>
<circle class="p2" cx="125.3" cy="234.0" r="1.9"/>
<circle class="p3" cx="203.3" cy="367.6" r="1.9"/>
<circle class="p2" cx="203.3" cy="369.4" r="1.9"/>
<circle class="p1" cx="515.3" cy="279.1" r="1.9"/>
<circle class="p2" cx="125.3" cy="143.6" r="1.9"/>
<circle class="p2" cx="203.3" cy="335.6" r="1.9"/>
<circle class="p1" cx="437.3" cy="160.6" r="1.9"/>
<circle class="p2" cx="281.3" cy="284.8" r="1.9"/>
<circle class="p3" cx="281.3" cy="132.4" r="1.9"/>
<circle class="p1" cx="437.3" cy="290.4" r="1.9"/>
<circle class="p3" cx="125.3" cy="318.6" r="1.9"/>
<circle class="p3" cx="437.3" cy="234.0" r="1.9"/>
<circle class="p3" cx="125.3" cy="318.6" r="1.9"/>
<circle class="p3" cx="47.3" cy="273.5" r="1.9"/>
<circle class="p2" cx="203.3" cy="250.9" r="1.9"/>
<circle class="p2" cx="125.3" cy="250.9" r="1.9"/>
<circle class="p1" cx="281.3" cy="245.2" r="1.9"/>
<circle class="p2" cx="359.3" cy="205.7" r="1.9"/>
<circle class="p2" cx="437.3" cy="194.4" r="1.9"/>
<circle class="p1" cx="359.3" cy="313.0" r="1.9"/>
<circle class="p1" cx="593.3" cy="217.0" r="1.9"/>
<circle class="p3" cx="125.3" cy="313.0" r="1.9"/>
<circle class="p2" cx="203.3" cy="273.5" r="1.9"/>
<circle class="p2" cx="125.3" cy="234.0" r="1.9"/>
<circle class="p3" cx="47.3" cy="171.9" r="1.9"/>
<circle class="p1" cx="515.3" cy="267.8" r="1.9"/>
<circle class="p2" cx="125.3" cy="442.8" r="1.9"/>
<circle class="p2" cx="203.3" cy="211.4" r="1.9"/>
<circle class="p1" cx="437.3" cy="262.2" r="1.9"/>
<circle class="p3" cx="359.3" cy="205.7" r="1.9"/>
<circle class="p2" cx="515.3" cy="188.8" r="1.9"/>
<circle class="p3" cx="125.3" cy="352.5" r="1.9"/>
<circle class="p3" cx="47.3" cy="245.2" r="1.9"/>
<circle class="p1" cx="515.3" cy="154.9" r="1.9"/>
<circle class="p2" cx="281.3" cy="154.9" r="1.9"/>
<circle class="p1" cx="203.3" cy="307.3" r="1.9"/>
<circle class="p3" cx="47.3" cy="154.9" r="1.9"/>
<circle class="p3" cx="125.3" cy="313.0" r="1.9"/>
<circle class="p1" cx="203.3" cy="234.0" r="1.9"/>
<circle class="p1" cx="437.3" cy="352.5" r="1.9"/>
<circle class="p2" cx="125.3" cy="154.9" r="1.9"/>
<circle class="p1" cx="359.3" cy="205.7" r="1.9"/>
<circle class="p3" cx="359.3" cy="256.5" r="1.9"/>
<circle class="p3" cx="47.3" cy="234.0" r="1.9"/>
<circle class="p1" cx="281.3" cy="200.1" r="1.9"/>
<circle class="p2" cx="437.3" cy="329.9" r="1.9"/>
<circle class="p2" cx="281.3" cy="171.9" r="1.9"/>
<circle class="p3" cx="125.3" cy="205.7" r="1.9"/>
<circle class="p1" cx="281.3" cy="409.3" r="1.9"/>
<circle class="p1" cx="203.3" cy="200.1" r="1.9"/>
<circle class="p1" cx="437.3" cy="262.2" r="1.9"/>
<circle class="p1" cx="515.3" cy="171.9" r="1.9"/>
<circle class="p1" cx="203.3" cy="149.3" r="1.9"/>
<circle class="p1" cx="437.3" cy="160.6" r="1.9"/>
<circle class="p3" cx="125.3" cy="200.1" r="1.9"/>
<circle class="p3" cx="125.3" cy="296.0" r="1.9"/>
<circle class="p2" cx="359.3" cy="398.1" r="1.9"/>
<circle class="p3" cx="125.3" cy="296.0" r="1.9"/>
<circle class="p1" cx="515.3" cy="245.2" r="1.9"/>
<circle class="p3" cx="47.3" cy="245.2" r="1.9"/>
<circle class="p2" cx="437.3" cy="234.0" r="1.9"/>
<circle class="p2" cx="359.3" cy="301.7" r="1.9"/>
<circle class="p3" cx="47.3" cy="290.4" r="1.9"/>
<circle class="p2" cx="281.3" cy="239.6" r="1.9"/>
<circle class="p1" cx="281.3" cy="256.5" r="1.9"/>
<circle class="p2" cx="125.3" cy="166.2" r="1.9"/>
<circle class="p1" cx="203.3" cy="222.7" r="1.9"/>
<circle class="p2" cx="203.3" cy="307.3" r="1.9"/>
<circle class="p2" cx="515.3" cy="369.6" r="1.9"/>
<circle class="p1" cx="359.3" cy="256.5" r="1.9"/>
<circle class="p3" cx="203.3" cy="228.3" r="1.9"/>
<circle class="p3" cx="47.3" cy="273.5" r="1.9"/>
<circle class="p3" cx="125.3" cy="211.4" r="1.9"/>
<circle class="p3" cx="359.3" cy="284.8" r="1.9"/>
<circle class="p3" cx="125.3" cy="245.2" r="1.9"/>
<circle class="p2" cx="359.3" cy="301.7" r="1.9"/>
<circle class="p2" cx="203.3" cy="158.3" r="1.9"/>
<circle class="p2" cx="203.3" cy="222.7" r="1.9"/>
<circle class="p3" cx="203.3" cy="307.3" r="1.9"/>
<circle class="p1" cx="359.3" cy="324.3" r="1.9"/>
<circle class="p3" cx="437.3" cy="222.7" r="1.9"/>
<circle class="p3" cx="281.3" cy="200.1" r="1.9"/>
<circle class="p3" cx="203.3" cy="296.0" r="1.9"/>
<circle class="p1" cx="593.3" cy="154.9" r="1.9"/>
<circle class="p2" cx="203.3" cy="138.0" r="1.9"/>
<circle class="p1" cx="593.3" cy="115.4" r="1.9"/>
<circle class="p3" cx="437.3" cy="324.3" r="1.9"/>
<circle class="p1" cx="203.3" cy="267.8" r="1.9"/>
<circle class="p1" cx="203.3" cy="177.5" r="1.9"/>
<circle class="p3" cx="203.3" cy="290.4" r="1.9"/>
<circle class="p2" cx="359.3" cy="301.7" r="1.9"/>
<circle class="p1" cx="203.3" cy="149.3" r="1.9"/>
<circle class="p1" cx="281.3" cy="143.6" r="1.9"/>
<circle class="p1" cx="203.3" cy="307.3" r="1.9"/>
<circle class="p1" cx="281.3" cy="177.5" r="1.9"/>
<circle class="p1" cx="593.3" cy="138.0" r="1.9"/>
<circle class="p1" cx="203.3" cy="160.6" r="1.9"/>
<circle class="p2" cx="281.3" cy="363.8" r="1.9"/>
<circle class="p1" cx="515.3" cy="273.5" r="1.9"/>
<circle class="p1" cx="281.3" cy="262.2" r="1.9"/>
<circle class="p3" cx="281.3" cy="318.6" r="1.9"/>
<circle class="p3" cx="47.3" cy="262.2" r="1.9"/>
<circle class="p1" cx="203.3" cy="154.9" r="1.9"/>
<circle class="p2" cx="437.3" cy="250.9" r="1.9"/>
<circle class="p1" cx="437.3" cy="183.2" r="1.9"/>
<circle class="p1" cx="593.3" cy="183.2" r="1.9"/>
<circle class="p3" cx="47.3" cy="352.5" r="1.9"/>
<circle class="p2" cx="359.3" cy="149.3" r="1.9"/>
<circle class="p3" cx="281.3" cy="211.4" r="1.9"/>
<circle class="p1" cx="281.3" cy="228.3" r="1.9"/>
<circle class="p3" cx="359.3" cy="234.0" r="1.9"/>
<circle class="p2" cx="515.3" cy="228.3" r="1.9"/>
<circle class="p1" cx="593.3" cy="138.0" r="1.9"/>
<circle class="p3" cx="203.3" cy="290.4" r="1.9"/>
<circle class="p1" cx="203.3" cy="324.3" r="1.9"/>
<circle class="p2" cx="203.3" cy="160.6" r="1.9"/>
<circle class="p3" cx="281.3" cy="245.2" r="1.9"/>
<circle class="p1" cx="437.3" cy="245.2" r="1.9"/>
<circle class="p2" cx="125.3" cy="346.8" r="1.9"/>
<circle class="p3" cx="125.3" cy="126.7" r="1.9"/>
<circle class="p3" cx="281.3" cy="211.4" r="1.9"/>
<circle class="p3" cx="203.3" cy="341.2" r="1.9"/>
<circle class="p2" cx="515.3" cy="228.3" r="1.9"/>
<circle class="p3" cx="437.3" cy="132.4" r="1.9"/>
<circle class="p1" cx="515.3" cy="307.3" r="1.9"/>
<circle class="p2" cx="125.3" cy="262.2" r="1.9"/>
<circle class="p1" cx="203.3" cy="217.0" r="1.9"/>
<circle class="p1" cx="437.3" cy="256.5" r="1.9"/>
<circle class="p1" cx="593.3" cy="363.6" r="1.9"/>
<circle class="p2" cx="515.3" cy="256.5" r="1.9"/>
<circle class="p3" cx="47.3" cy="171.9" r="1.9"/>
<circle class="p2" cx="281.3" cy="143.6" r="1.9"/>
<circle class="p2" cx="359.3" cy="250.9" r="1.9"/>
<circle class="p2" cx="203.3" cy="250.9" r="1.9"/>
<circle class="p1" cx="359.3" cy="234.0" r="1.9"/>
<circle class="p3" cx="281.3" cy="256.5" r="1.9"/>
<circle class="p3" cx="125.3" cy="188.8" r="1.9"/>
<circle class="p3" cx="281.3" cy="194.4" r="1.9"/>
<circle class="p2" cx="515.3" cy="279.1" r="1.9"/>
<circle class="p1" cx="593.3" cy="239.6" r="1.9"/>
<circle class="p1" cx="203.3" cy="346.8" r="1.9"/>
<circle class="p3" cx="437.3" cy="149.3" r="1.9"/>
<circle class="p1" cx="437.3" cy="284.8" r="1.9"/>
<circle class="p3" cx="281.3" cy="217.0" r="1.9"/>
<circle class="p1" cx="437.3" cy="222.7" r="1.9"/>
<circle class="p3" cx="203.3" cy="228.3" r="1.9"/>
<circle class="p1" cx="359.3" cy="273.5" r="1.9"/>
<circle class="p2" cx="437.3" cy="256.5" r="1.9"/>
<circle class="p1" cx="281.3" cy="109.6" r="1.9"/>
<circle class="p1" cx="359.3" cy="211.4" r="1.9"/>
<circle class="p3" cx="359.3" cy="301.7" r="1.9"/>
<circle class="p1" cx="203.3" cy="267.8" r="1.9"/>
<circle class="p2" cx="125.3" cy="180.7" r="1.9"/>
<circle class="p2" cx="203.3" cy="217.0" r="1.9"/>
<circle class="p2" cx="203.3" cy="126.7" r="1.9"/>
<circle class="p1" cx="203.3" cy="222.7" r="1.9"/>
<circle class="p2" cx="125.3" cy="290.4" r="1.9"/>
<circle class="p2" cx="281.3" cy="194.4" r="1.9"/>
<circle class="p2" cx="281.3" cy="256.5" r="1.9"/>
<circle class="p1" cx="359.3" cy="149.3" r="1.9"/>
<circle class="p2" cx="359.3" cy="442.8" r="1.9"/>
<circle class="p1" cx="359.3" cy="239.6" r="1.9"/>
<circle class="p1" cx="515.3" cy="262.2" r="1.9"/>
<circle class="p1" cx="359.3" cy="183.2" r="1.9"/>
<circle class="p2" cx="437.3" cy="188.8" r="1.9"/>
<circle class="p1" cx="437.3" cy="239.6" r="1.9"/>
<circle class="p2" cx="281.3" cy="290.4" r="1.9"/>
<circle class="p2" cx="125.3" cy="346.8" r="1.9"/>
<circle class="p3" cx="125.3" cy="262.2" r="1.9"/>
<circle class="p2" cx="515.3" cy="318.6" r="1.9"/>
<circle class="p3" cx="125.3" cy="245.2" r="1.9"/>
<circle class="p2" cx="125.3" cy="245.2" r="1.9"/>
<circle class="p2" cx="281.3" cy="363.8" r="1.9"/>
<circle class="p2" cx="281.3" cy="222.7" r="1.9"/>
<circle class="p3" cx="47.3" cy="228.3" r="1.9"/>
<circle class="p1" cx="203.3" cy="296.0" r="1.9"/>
<circle class="p3" cx="281.3" cy="296.0" r="1.9"/>
<circle class="p2" cx="359.3" cy="239.6" r="1.9"/>
<circle class="p1" cx="281.3" cy="211.4" r="1.9"/>
<circle class="p1" cx="437.3" cy="250.9" r="1.9"/>
<circle class="p3" cx="281.3" cy="222.7" r="1.9"/>
<circle class="p2" cx="125.3" cy="392.0" r="1.9"/>
<circle class="p2" cx="125.3" cy="284.8" r="1.9"/>
<circle class="p1" cx="437.3" cy="171.9" r="1.9"/>
<circle class="p1" cx="593.3" cy="290.4" r="1.9"/>
<circle class="p2" cx="281.3" cy="234.0" r="1.9"/>
<circle class="p2" cx="515.3" cy="273.5" r="1.9"/>
<circle class="p3" cx="437.3" cy="307.3" r="1.9"/>
<circle class="p3" cx="125.3" cy="200.1" r="1.9"/>
<circle class="p2" cx="437.3" cy="222.7" r="1.9"/>
<circle class="p3" cx="203.3" cy="245.2" r="1.9"/>
<circle class="p3" cx="47.3" cy="284.8" r="1.9"/>
<circle class="p1" cx="203.3" cy="313.0" r="1.9"/>
<circle class="p1" cx="437.3" cy="115.4" r="1.9"/>
<circle class="p1" cx="203.3" cy="296.0" r="1.9"/>
<circle class="p2" cx="203.3" cy="273.5" r="1.9"/>
<circle class="p3" cx="203.3" cy="318.6" r="1.9"/>
<circle class="p2" cx="125.3" cy="160.6" r="1.9"/>
<circle class="p2" cx="437.3" cy="171.9" r="1.9"/>
<circle class="p1" cx="515.3" cy="335.6" r="1.9"/>
<circle class="p2" cx="437.3" cy="296.0" r="1.9"/>
<circle class="p3" cx="125.3" cy="267.8" r="1.9"/>
<circle class="p2" cx="203.3" cy="149.3" r="1.9"/>
<circle class="p3" cx="47.3" cy="200.1" r="1.9"/>
<circle class="p2" cx="515.3" cy="166.2" r="1.9"/>
<circle class="p2" cx="125.3" cy="183.2" r="1.9"/>
<circle class="p2" cx="125.3" cy="234.0" r="1.9"/>
<circle class="p3" cx="47.3" cy="183.2" r="1.9"/>
<circle class="p3" cx="203.3" cy="313.0" r="1.9"/>
<circle class="p2" cx="437.3" cy="307.3" r="1.9"/>
<circle class="p3" cx="437.3" cy="205.7" r="1.9"/>
<circle class="p3" cx="359.3" cy="234.0" r="1.9"/>
<circle class="p3" cx="437.3" cy="245.2" r="1.9"/>
<circle class="p1" cx="203.3" cy="154.9" r="1.9"/>
<circle class="p1" cx="437.3" cy="318.6" r="1.9"/>
<circle class="p3" cx="281.3" cy="239.6" r="1.9"/>
<circle class="p1" cx="593.3" cy="234.0" r="1.9"/>
<circle class="p3" cx="281.3" cy="363.8" r="1.9"/>
<circle class="p3" cx="437.3" cy="329.9" r="1.9"/>
<circle class="p3" cx="437.3" cy="160.6" r="1.9"/>
<circle class="p2" cx="125.3" cy="273.5" r="1.9"/>
<circle class="p1" cx="203.3" cy="346.8" r="1.9"/>
<circle class="p2" cx="281.3" cy="279.1" r="1.9"/>
<circle class="p2" cx="125.3" cy="183.2" r="1.9"/>
<circle class="p1" cx="437.3" cy="217.0" r="1.9"/>
<circle class="p2" cx="515.3" cy="183.2" r="1.9"/>
<circle class="p3" cx="47.3" cy="250.9" r="1.9"/>
<circle class="p2" cx="437.3" cy="318.6" r="1.9"/>
<circle class="p3" cx="47.3" cy="353.4" r="1.9"/>
<circle class="p3" cx="437.3" cy="341.2" r="1.9"/>
<circle class="p3" cx="47.3" cy="250.9" r="1.9"/>
<circle class="p1" cx="593.3" cy="160.6" r="1.9"/>
<circle class="p2" cx="437.3" cy="256.5" r="1.9"/>
<circle class="p2" cx="281.3" cy="222.7" r="1.9"/>
<circle class="p3" cx="203.3" cy="245.2" r="1.9"/>
<circle class="p2" cx="203.3" cy="188.8" r="1.9"/>
<circle class="p3" cx="359.3" cy="346.8" r="1.9"/>
<circle class="p2" cx="203.3" cy="375.1" r="1.9"/>
<circle class="p1" cx="203.3" cy="183.2" r="1.9"/>
<circle class="p1" cx="437.3" cy="250.9" r="1.9"/>
<circle class="p2" cx="515.3" cy="346.8" r="1.9"/>
<circle class="p2" cx="515.3" cy="307.3" r="1.9"/>
<circle class="p1" cx="437.3" cy="313.0" r="1.9"/>
<circle class="p1" cx="203.3" cy="256.5" r="1.9"/>
<circle class="p1" cx="593.3" cy="200.1" r="1.9"/>
<circle class="p1" cx="593.3" cy="188.8" r="1.9"/>
<circle class="p1" cx="437.3" cy="256.5" r="1.9"/>
<circle class="p1" cx="281.3" cy="346.8" r="1.9"/>
<circle class="p1" cx="359.3" cy="154.9" r="1.9"/>
<circle class="p1" cx="437.3" cy="160.6" r="1.9"/>
<circle class="p2" cx="359.3" cy="245.2" r="1.9"/>
<circle class="p1" cx="593.3" cy="239.6" r="1.9"/>
<circle class="p1" cx="281.3" cy="177.5" r="1.9"/>
<circle class="p2" cx="437.3" cy="228.3" r="1.9"/>
<circle class="p3" cx="203.3" cy="290.4" r="1.9"/>
<circle class="p3" cx="437.3" cy="346.8" r="1.9"/>
<circle class="p3" cx="125.3" cy="301.7" r="1.9"/>
<circle class="p1" cx="359.3" cy="222.7" r="1.9"/>
<circle class="p2" cx="203.3" cy="239.6" r="1.9"/>
<circle class="p1" cx="593.3" cy="358.5" r="1.9"/>
<circle class="p2" cx="515.3" cy="166.2" r="1.9"/>
<circle class="p1" cx="437.3" cy="211.4" r="1.9"/>
<circle class="p1" cx="281.3" cy="239.6" r="1.9"/>
<circle class="p1" cx="437.3" cy="149.3" r="1.9"/>
<circle class="p1" cx="359.3" cy="250.9" r="1.9"/>
<circle class="p3" cx="125.3" cy="36.4" r="1.9"/>
<circle class="p2" cx="125.3" cy="296.0" r="1.9"/>
<circle class="p3" cx="47.3" cy="228.3" r="1.9"/>
<circle class="p1" cx="437.3" cy="183.2" r="1.9"/>
<circle class="p2" cx="125.3" cy="279.1" r="1.9"/>
<circle class="p1" cx="281.3" cy="324.3" r="1.9"/>
<circle class="p1" cx="593.3" cy="267.8" r="1.9"/>
<circle class="p2" cx="203.3" cy="250.9" r="1.9"/>
<circle class="p1" cx="515.3" cy="126.7" r="1.9"/>
<circle class="p1" cx="281.3" cy="239.6" r="1.9"/>
<circle class="p3" cx="359.3" cy="313.0" r="1.9"/>
<circle class="p3" cx="359.3" cy="273.5" r="1.9"/>
<circle class="p1" cx="437.3" cy="318.6" r="1.9"/>
<circle class="p3" cx="203.3" cy="262.2" r="1.9"/>
<circle class="p1" cx="203.3" cy="273.5" r="1.9"/>
<circle class="p1" cx="437.3" cy="267.8" r="1.9"/>
<circle class="p1" cx="281.3" cy="222.7" r="1.9"/>
<circle class="p3" cx="47.3" cy="245.2" r="1.9"/>
<circle class="p1" cx="515.3" cy="335.6" r="1.9"/>
<circle class="p1" cx="281.3" cy="183.2" r="1.9"/>
<circle class="p1" cx="359.3" cy="279.1" r="1.9"/>
<circle class="p2" cx="437.3" cy="290.4" r="1.9"/>
<circle class="p1" cx="593.3" cy="205.7" r="1.9"/>
<circle class="p1" cx="203.3" cy="346.8" r="1.9"/>
<circle class="p2" cx="203.3" cy="333.1" r="1.9"/>
<circle class="p1" cx="281.3" cy="392.0" r="1.9"/>
<circle class="p1" cx="203.3" cy="273.5" r="1.9"/>
<circle class="p1" cx="359.3" cy="273.5" r="1.9"/>
<circle class="p2" cx="125.3" cy="200.1" r="1.9"/>
<circle class="p3" cx="203.3" cy="369.4" r="1.9"/>
<circle class="p1" cx="515.3" cy="245.2" r="1.9"/>
<circle class="p3" cx="281.3" cy="245.2" r="1.9"/>
<circle class="p3" cx="437.3" cy="194.4" r="1.9"/>
<circle class="p1" cx="593.3" cy="138.0" r="1.9"/>
<circle class="p2" cx="359.3" cy="228.3" r="1.9"/>
<circle class="p3" cx="437.3" cy="211.4" r="1.9"/>
<circle class="p2" cx="437.3" cy="313.0" r="1.9"/>
<circle class="p1" cx="203.3" cy="267.8" r="1.9"/>
<circle class="p3" cx="359.3" cy="184.7" r="1.9"/>
<circle class="p3" cx="359.3" cy="296.0" r="1.9"/>
<circle class="p2" cx="125.3" cy="279.1" r="1.9"/>
<circle class="p1" cx="515.3" cy="200.1" r="1.9"/>
<circle class="p2" cx="437.3" cy="121.1" r="1.9"/>
<circle class="p1" cx="359.3" cy="245.2" r="1.9"/>
<circle class="p1" cx="203.3" cy="267.8" r="1.9"/>
<circle class="p2" cx="359.3" cy="307.3" r="1.9"/>
<circle class="p1" cx="593.3" cy="284.8" r="1.9"/>
<circle class="p2" cx="281.3" cy="262.2" r="1.9"/>
<circle class="p1" cx="515.3" cy="217.0" r="1.9"/>
<circle class="p1" cx="437.3" cy="250.9" r="1.9"/>
<circle class="p2" cx="437.3" cy="267.8" r="1.9"/>
<circle class="p1" cx="359.3" cy="200.1" r="1.9"/>
<circle class="p2" cx="437.3" cy="132.4" r="1.9"/>
<circle class="p3" cx="203.3" cy="205.7" r="1.9"/>
<circle class="p1" cx="593.3" cy="234.0" r="1.9"/>
<circle class="p1" cx="515.3" cy="126.7" r="1.9"/>
<circle class="p2" cx="203.3" cy="228.3" r="1.9"/>
<circle class="p1" cx="437.3" cy="273.5" r="1.9"/>
<circle class="p2" cx="125.3" cy="301.7" r="1.9"/>
<circle class="p3" cx="47.3" cy="296.0" r="1.9"/>
<circle class="p1" cx="359.3" cy="296.0" r="1.9"/>
<circle class="p2" cx="125.3" cy="183.2" r="1.9"/>
<circle class="p1" cx="515.3" cy="205.7" r="1.9"/>
<circle class="p3" cx="203.3" cy="262.2" r="1.9"/>
<circle class="p1" cx="359.3" cy="177.5" r="1.9"/>
<circle class="p3" cx="437.3" cy="284.8" r="1.9"/>
<circle class="p1" cx="359.3" cy="121.1" r="1.9"/>
<circle class="p1" cx="515.3" cy="217.0" r="1.9"/>
<circle class="p3" cx="47.3" cy="284.8" r="1.9"/>
<circle class="p1" cx="515.3" cy="363.6" r="1.9"/>
<circle class="p1" cx="515.3" cy="256.5" r="1.9"/>
<circle class="p1" cx="437.3" cy="222.7" r="1.9"/>
<circle class="p2" cx="515.3" cy="301.7" r="1.9"/>
<circle class="p1" cx="281.3" cy="234.0" r="1.9"/>
<circle class="p2" cx="359.3" cy="250.9" r="1.9"/>
<circle class="p3" cx="47.3" cy="256.5" r="1.9"/>
<circle class="p2" cx="359.3" cy="188.8" r="1.9"/>
<circle class="p1" cx="515.3" cy="183.2" r="1.9"/>
<circle class="p1" cx="203.3" cy="324.3" r="1.9"/>
<circle class="p3" cx="125.3" cy="250.9" r="1.9"/>
<circle class="p3" cx="437.3" cy="36.4" r="1.9"/>
<circle class="p3" cx="47.3" cy="194.4" r="1.9"/>
<circle class="p3" cx="281.3" cy="313.0" r="1.9"/>
<circle class="p3" cx="437.3" cy="64.8" r="1.9"/>
<circle class="p1" cx="437.3" cy="183.2" r="1.9"/>
<circle class="p3" cx="437.3" cy="154.9" r="1.9"/>
<circle class="p1" cx="281.3" cy="284.8" r="1.9"/>
<circle class="p3" cx="125.3" cy="222.7" r="1.9"/>
<circle class="p2" cx="125.3" cy="324.3" r="1.9"/>
<circle class="p2" cx="125.3" cy="98.4" r="1.9"/>
<circle class="p1" cx="203.3" cy="200.1" r="1.9"/>
<circle class="p1" cx="593.3" cy="290.4" r="1.9"/>
<circle class="p3" cx="125.3" cy="301.7" r="1.9"/>
<circle class="p3" cx="203.3" cy="228.3" r="1.9"/>
<circle class="p1" cx="437.3" cy="228.3" r="1.9"/>
<circle class="p1" cx="203.3" cy="279.1" r="1.9"/>
<circle class="p2" cx="437.3" cy="211.4" r="1.9"/>
<circle class="p2" cx="437.3" cy="200.1" r="1.9"/>
<circle class="p3" cx="125.3" cy="273.5" r="1.9"/>
<circle class="p1" cx="593.3" cy="205.7" r="1.9"/>
<circle class="p2" cx="203.3" cy="183.2" r="1.9"/>
<circle class="p2" cx="203.3" cy="183.2" r="1.9"/>
<circle class="p2" cx="125.3" cy="171.9" r="1.9"/>
<circle class="p3" cx="437.3" cy="273.5" r="1.9"/>
<circle class="p2" cx="515.3" cy="279.1" r="1.9"/>
<circle class="p3" cx="359.3" cy="132.4" r="1.9"/>
<circle class="p1" cx="203.3" cy="250.9" r="1.9"/>
<circle class="p3" cx="125.3" cy="228.3" r="1.9"/>
<circle class="p3" cx="359.3" cy="194.4" r="1.9"/>
<circle class="p1" cx="437.3" cy="239.6" r="1.9"/>
<circle class="p3" cx="47.3" cy="262.2" r="1.9"/>
<circle class="p2" cx="125.3" cy="205.7" r="1.9"/>
<circle class="p1" cx="203.3" cy="279.1" r="1.9"/>
<circle class="p1" cx="437.3" cy="200.1" r="1.9"/>
<circle class="p2" cx="281.3" cy="177.5" r="1.9"/>
<circle class="p1" cx="515.3" cy="132.4" r="1.9"/>
<circle class="p1" cx="593.3" cy="296.0" r="1.9"/>
<circle class="p3" cx="125.3" cy="104.5" r="1.9"/>
<circle class="p1" cx="437.3" cy="228.3" r="1.9"/>
<circle class="p2" cx="437.3" cy="330.0" r="1.9"/>
<circle class="p3" cx="47.3" cy="234.0" r="1.9"/>
<circle class="p3" cx="203.3" cy="256.5" r="1.9"/>
<circle class="p3" cx="437.3" cy="138.0" r="1.9"/>
<circle class="p2" cx="437.3" cy="200.1" r="1.9"/>
<circle class="p2" cx="437.3" cy="256.5" r="1.9"/>
<circle class="p1" cx="203.3" cy="256.5" r="1.9"/>
<circle class="p3" cx="125.3" cy="262.2" r="1.9"/>
<circle class="p2" cx="281.3" cy="228.3" r="1.9"/>
<circle class="p3" cx="437.3" cy="279.1" r="1.9"/>
<circle class="p1" cx="359.3" cy="217.0" r="1.9"/>
<circle class="p2" cx="203.3" cy="369.4" r="1.9"/>
<circle class="p1" cx="515.3" cy="250.9" r="1.9"/>
<circle class="p2" cx="125.3" cy="256.5" r="1.9"/>
<circle class="p1" cx="593.3" cy="188.8" r="1.9"/>
<circle class="p1" cx="281.3" cy="318.6" r="1.9"/>
<circle class="p1" cx="515.3" cy="222.7" r="1.9"/>
<circle class="p3" cx="125.3" cy="307.3" r="1.9"/>
<circle class="p3" cx="125.3" cy="358.1" r="1.9"/>
<circle class="p3" cx="359.3" cy="352.5" r="1.9"/>
<circle class="p1" cx="437.3" cy="324.3" r="1.9"/>
<circle class="p2" cx="437.3" cy="296.0" r="1.9"/>
<circle class="p1" cx="281.3" cy="296.0" r="1.9"/>
<circle class="p2" cx="203.3" cy="284.8" r="1.9"/>
<circle class="p1" cx="437.3" cy="245.2" r="1.9"/>
<circle class="p1" cx="437.3" cy="166.2" r="1.9"/>
<circle class="p3" cx="203.3" cy="284.8" r="1.9"/>
<circle class="p2" cx="437.3" cy="103.5" r="1.9"/>
<circle class="p1" cx="281.3" cy="205.7" r="1.9"/>
<circle class="p1" cx="359.3" cy="115.4" r="1.9"/>
<circle class="p3" cx="359.3" cy="335.6" r="1.9"/>
<circle class="p3" cx="281.3" cy="217.0" r="1.9"/>
<circle class="p2" cx="203.3" cy="256.5" r="1.9"/>
<circle class="p3" cx="359.3" cy="177.5" r="1.9"/>
<circle class="p2" cx="203.3" cy="239.6" r="1.9"/>
<circle class="p2" cx="281.3" cy="188.8" r="1.9"/>
<circle class="p3" cx="437.3" cy="211.4" r="1.9"/>
<circle class="p3" cx="203.3" cy="200.1" r="1.9"/>
<circle class="p1" cx="515.3" cy="160.6" r="1.9"/>
<circle class="p1" cx="515.3" cy="301.7" r="1.9"/>
<circle class="p3" cx="359.3" cy="290.4" r="1.9"/>
<circle class="p3" cx="203.3" cy="211.4" r="1.9"/>
<circle class="p2" cx="359.3" cy="262.2" r="1.9"/>
<circle class="p2" cx="203.3" cy="183.2" r="1.9"/>
<circle class="p3" cx="281.3" cy="313.0" r="1.9"/>
<circle class="p3" cx="359.3" cy="245.2" r="1.9"/>
<circle class="p2" cx="125.3" cy="222.7" r="1.9"/>
<circle class="p2" cx="203.3" cy="296.0" r="1.9"/>
<circle class="p1" cx="593.3" cy="262.2" r="1.9"/>
<circle class="p3" cx="281.3" cy="369.6" r="1.9"/>
<circle class="p3" cx="359.3" cy="296.0" r="1.9"/>
<circle class="p3" cx="125.3" cy="245.2" r="1.9"/>
<circle cx="203.3" cy="256.1" r="3.4" fill="#FF0000"/>
<circle cx="281.3" cy="249.8" r="3.4" fill="#FF0000"/>
<circle cx="359.3" cy="245.0" r="3.4" fill="#FF0000"/>
<circle cx="437.3" cy="240.7" r="3.4" fill="#FF0000"/>
<circle cx="515.3" cy="231.8" r="3.4" fill="#FF0000"/>
<circle cx="593.3" cy="239.6" r="3.4" fill="#FF0000"/>
<circle cx="125.3" cy="243.0" r="3.4" fill="#006400"/>
<circle cx="203.3" cy="234.5" r="3.4" fill="#006400"/>
<circle cx="281.3" cy="237.2" r="3.4" fill="#006400"/>
<circle cx="359.3" cy="228.0" r="3.4" fill="#006400"/>
<circle cx="437.3" cy="220.9" r="3.4" fill="#006400"/>
<circle cx="515.3" cy="229.0" r="3.4" fill="#006400"/>
<circle cx="47.3" cy="243.4" r="3.4" fill="#0000FF"/>
<circle cx="125.3" cy="265.0" r="3.4" fill="#0000FF"/>
<circle cx="203.3" cy="264.3" r="3.4" fill="#0000FF"/>
<circle cx="281.3" cy="255.0" r="3.4" fill="#0000FF"/>
<circle cx="359.3" cy="255.9" r="3.4" fill="#0000FF"/>
<circle cx="437.3" cy="245.6" r="3.4" fill="#0000FF"/>
<line x1="47.3" y1="239.7" x2="281.3" y2="257.5" stroke="#000" stroke-width="3.6"/>
<line x1="281.3" y1="246" x2="593.3" y2="238.4" stroke="#000" stroke-width="3.6"/>
<line x1="281.4" y1="16" x2="281.4" y2="463" stroke="#BEBEBE" stroke-width="1.9"/>
<line x1="19.9" y1="16" x2="19.9" y2="463.9" stroke="#333" stroke-width="1.4"/>
<line x1="19.2" y1="463.2" x2="620.8" y2="463.2" stroke="#333" stroke-width="1.4"/>
<line x1="17.8" y1="442.8" x2="20" y2="442.8" stroke="#333" stroke-width="1.1"/>
<text x="16" y="445.3" text-anchor="end" class="tk">0</text>
<line x1="17.8" y1="341.2" x2="20" y2="341.2" stroke="#333" stroke-width="1.1"/>
<text x="16" y="343.7" text-anchor="end" class="tk">1</text>
<line x1="17.8" y1="239.6" x2="20" y2="239.6" stroke="#333" stroke-width="1.1"/>
<text x="16" y="242.1" text-anchor="end" class="tk">2</text>
<line x1="17.8" y1="138.0" x2="20" y2="138.0" stroke="#333" stroke-width="1.1"/>
<text x="16" y="140.5" text-anchor="end" class="tk">3</text>
<line x1="17.8" y1="36.4" x2="20" y2="36.4" stroke="#333" stroke-width="1.1"/>
<text x="16" y="38.9" text-anchor="end" class="tk">4</text>
<line x1="125.3" y1="463.2" x2="125.3" y2="465.6" stroke="#333" stroke-width="1.1"/>
<text x="125.3" y="472.8" text-anchor="middle" class="tx">−2</text>
<line x1="281.3" y1="463.2" x2="281.3" y2="465.6" stroke="#333" stroke-width="1.1"/>
<text x="281.3" y="472.8" text-anchor="middle" class="tx">0</text>
<line x1="437.3" y1="463.2" x2="437.3" y2="465.6" stroke="#333" stroke-width="1.1"/>
<text x="437.3" y="472.8" text-anchor="middle" class="tx">2</text>
<line x1="593.3" y1="463.2" x2="593.3" y2="465.6" stroke="#333" stroke-width="1.1"/>
<text x="593.3" y="472.8" text-anchor="middle" class="tx">4</text>
<text x="320.6" y="482.8" text-anchor="middle" class="at" style="font-size:9.1px">Measure Time, 0=Start of LOCI</text>
<text transform="translate(7.9,239.5) rotate(-90)" text-anchor="middle" class="at">Implementation Climate Scale (ICS)</text>
<text x="20.3" y="9.6" class="ti">The Effect of LOCI on Implementation Climate</text>
<text x="634.7" y="219.8" class="at">LOCI cohort</text>
<line class="l1" x1="636" y1="232.5" x2="647.4" y2="232.5"/>
<circle class="p1" cx="641.7" cy="232.5" r="1.9"/>
<text x="653.2" y="235.1" class="lt">1</text>
<line class="l2" x1="636" y1="246.7" x2="647.4" y2="246.7"/>
<circle class="p2" cx="641.7" cy="246.7" r="1.9"/>
<text x="653.2" y="249.29999999999998" class="lt">2</text>
<line class="l3" x1="636" y1="261" x2="647.4" y2="261"/>
<circle class="p3" cx="641.7" cy="261" r="1.9"/>
<text x="653.2" y="263.6" class="lt">3</text>
</svg>
</body></html>
